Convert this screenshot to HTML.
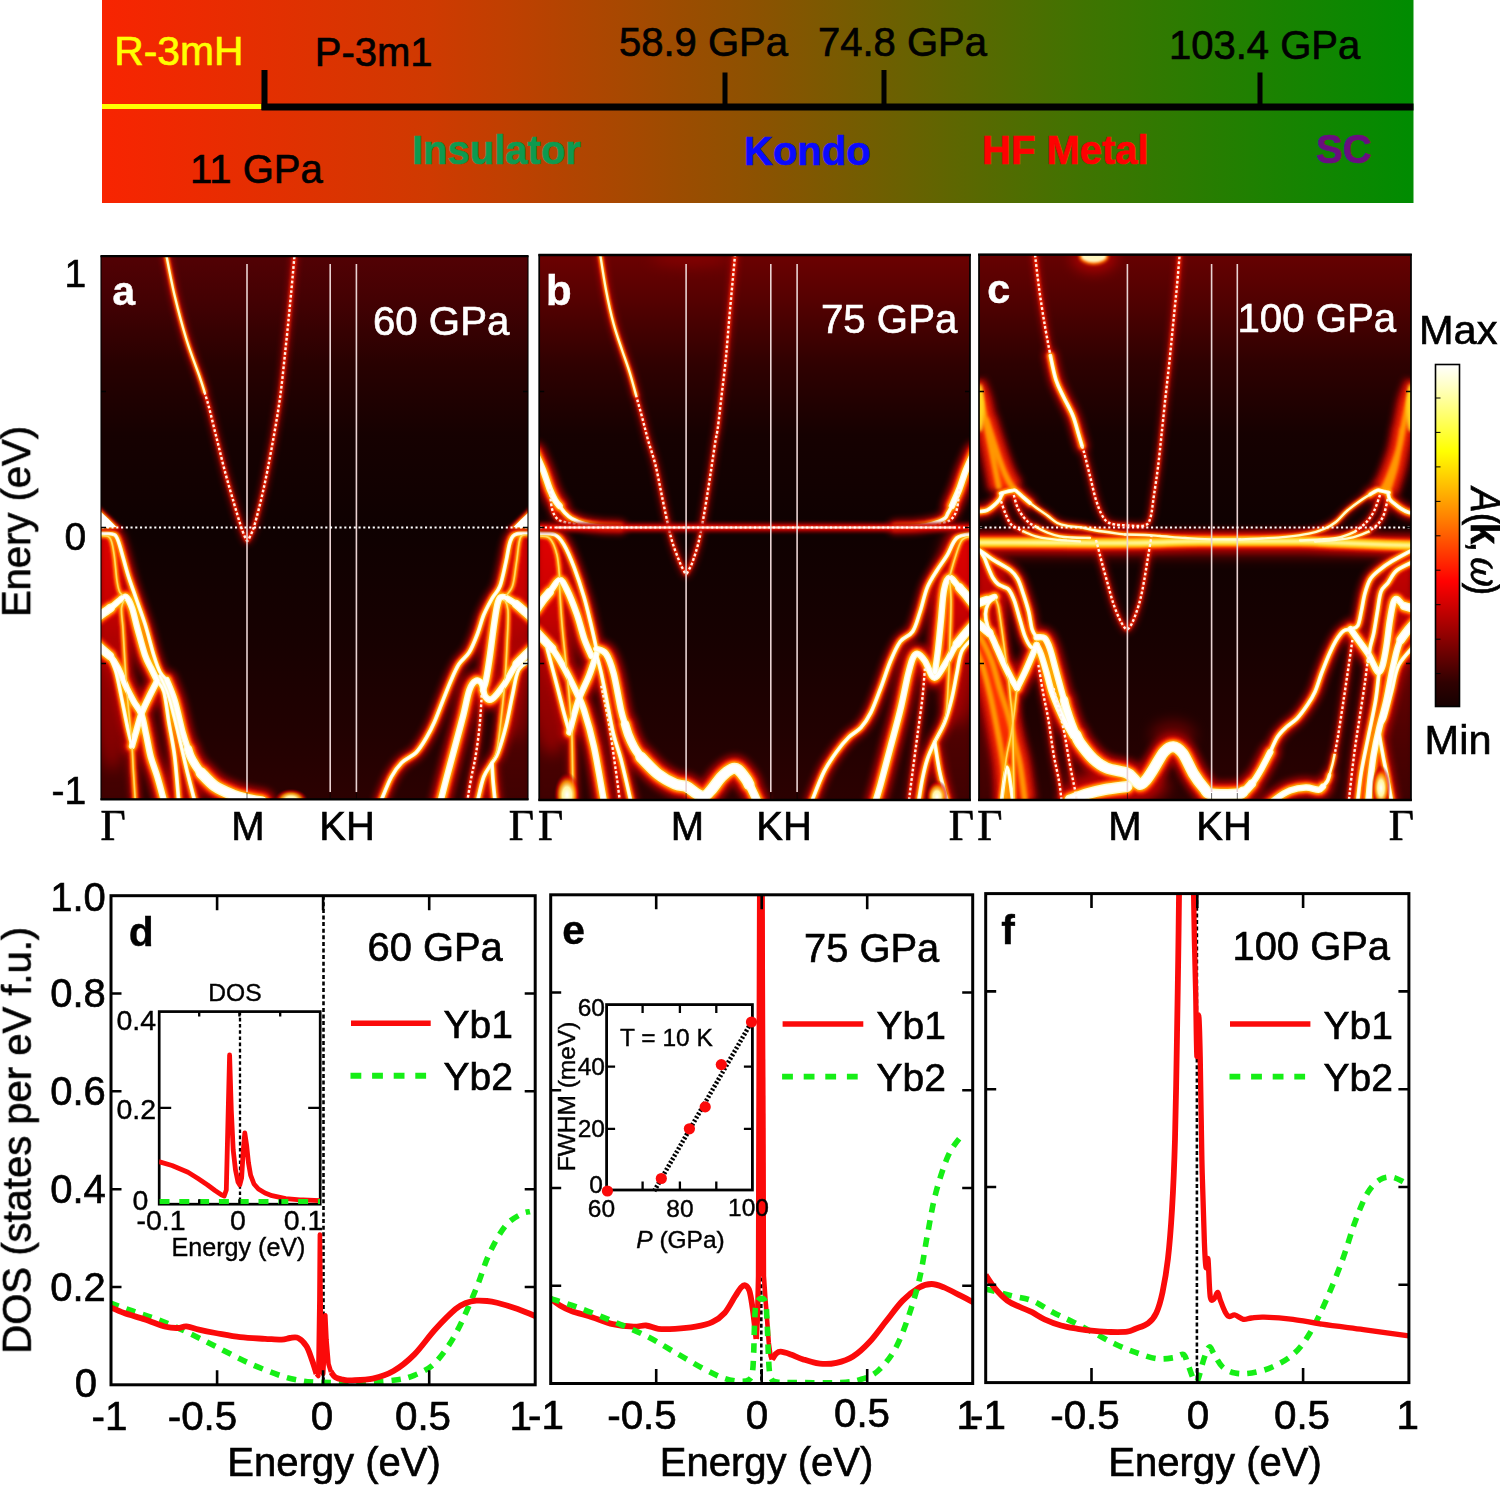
<!DOCTYPE html>
<html lang="en"><head><meta charset="utf-8"><title>Figure</title>
<style>
html,body{margin:0;padding:0;background:#fff;}
body{width:1500px;height:1485px;overflow:hidden;}
svg{display:block;}
</style></head><body>
<svg width="1500" height="1485" viewBox="0 0 1500 1485">
<rect width="1500" height="1485" fill="#fff"/>
<g opacity="0.999">
<defs><linearGradient id="gbar" x1="0" x2="1" y1="0" y2="0"><stop offset="0" stop-color="#f82400"/><stop offset="0.25" stop-color="#cf3a00"/><stop offset="0.5" stop-color="#8c5200"/><stop offset="0.75" stop-color="#3f7400"/><stop offset="1" stop-color="#008c00"/></linearGradient></defs>
<rect x="102" y="0" width="1311.5" height="203" fill="url(#gbar)"/>
<rect x="102" y="104" width="161" height="5" fill="#ffff00"/>
<rect x="261.5" y="103.5" width="1152" height="7" fill="#000"/>
<rect x="261.5" y="70" width="6" height="40" fill="#000"/>
<rect x="722.5" y="72.5" width="5" height="36" fill="#000"/>
<rect x="881.5" y="70" width="5" height="38" fill="#000"/>
<rect x="1257.5" y="72.5" width="5" height="36" fill="#000"/>
<text x="114.3" y="65.0" font-family="'Liberation Sans', Arial, Helvetica, sans-serif" font-size="40.8" text-anchor="start" font-weight="normal" font-style="normal" fill="#ffff00" stroke="#ffff00" stroke-width="0.65">R-3mH</text>
<text x="314.8" y="65.5" font-family="'Liberation Sans', Arial, Helvetica, sans-serif" font-size="40.0" text-anchor="start" font-weight="normal" font-style="normal" fill="#000" stroke="#000" stroke-width="0.65">P-3m1</text>
<text x="619.0" y="56.0" font-family="'Liberation Sans', Arial, Helvetica, sans-serif" font-size="40.0" text-anchor="start" font-weight="normal" font-style="normal" fill="#000" stroke="#000" stroke-width="0.65">58.9 GPa</text>
<text x="818.0" y="56.0" font-family="'Liberation Sans', Arial, Helvetica, sans-serif" font-size="40.0" text-anchor="start" font-weight="normal" font-style="normal" fill="#000" stroke="#000" stroke-width="0.65">74.8 GPa</text>
<text x="1169.0" y="59.0" font-family="'Liberation Sans', Arial, Helvetica, sans-serif" font-size="40.0" text-anchor="start" font-weight="normal" font-style="normal" fill="#000" stroke="#000" stroke-width="0.65">103.4 GPa</text>
<text x="190.0" y="182.5" font-family="'Liberation Sans', Arial, Helvetica, sans-serif" font-size="40.0" text-anchor="start" font-weight="normal" font-style="normal" fill="#000" stroke="#000" stroke-width="0.65">11 GPa</text>
<text x="412.0" y="164.0" font-family="'Liberation Sans', Arial, Helvetica, sans-serif" font-size="40.0" text-anchor="start" font-weight="bold" font-style="normal" fill="#0d9a50" stroke="#0d9a50" stroke-width="0.65">Insulator</text>
<text x="744.0" y="165.0" font-family="'Liberation Sans', Arial, Helvetica, sans-serif" font-size="40.0" text-anchor="start" font-weight="bold" font-style="normal" fill="#0a0aff" stroke="#0a0aff" stroke-width="0.65">Kondo</text>
<text x="982.0" y="164.0" font-family="'Liberation Sans', Arial, Helvetica, sans-serif" font-size="40.0" text-anchor="start" font-weight="bold" font-style="normal" fill="#ff0000" stroke="#ff0000" stroke-width="0.65">HF Metal</text>
<text x="1316.0" y="162.5" font-family="'Liberation Sans', Arial, Helvetica, sans-serif" font-size="40.0" text-anchor="start" font-weight="bold" font-style="normal" fill="#6a0d80" stroke="#6a0d80" stroke-width="0.65">SC</text>
<defs>
<linearGradient id="pbga" x1="0" x2="0" y1="0" y2="1"><stop offset="0" stop-color="#520004"/><stop offset="0.08" stop-color="#440003"/><stop offset="0.2" stop-color="#280001"/><stop offset="0.33" stop-color="#160000"/><stop offset="0.5" stop-color="#0f0000"/><stop offset="0.7" stop-color="#170000"/><stop offset="0.88" stop-color="#220000"/><stop offset="1" stop-color="#2c0000"/></linearGradient>
<linearGradient id="pbgb" x1="0" x2="0" y1="0" y2="1"><stop offset="0" stop-color="#6c0000"/><stop offset="0.08" stop-color="#560000"/><stop offset="0.2" stop-color="#300000"/><stop offset="0.33" stop-color="#160000"/><stop offset="0.5" stop-color="#0f0000"/><stop offset="0.7" stop-color="#170000"/><stop offset="0.88" stop-color="#220000"/><stop offset="1" stop-color="#2c0000"/></linearGradient>
<linearGradient id="pbgc" x1="0" x2="0" y1="0" y2="1"><stop offset="0" stop-color="#660000"/><stop offset="0.08" stop-color="#520000"/><stop offset="0.2" stop-color="#2e0000"/><stop offset="0.33" stop-color="#160000"/><stop offset="0.5" stop-color="#0f0000"/><stop offset="0.7" stop-color="#170000"/><stop offset="0.88" stop-color="#220000"/><stop offset="1" stop-color="#2c0000"/></linearGradient>
<filter id="bl4" filterUnits="userSpaceOnUse" x="80" y="230" width="1350" height="590"><feGaussianBlur stdDeviation="3.2"/></filter>
<filter id="bl2" filterUnits="userSpaceOnUse" x="80" y="230" width="1350" height="590"><feGaussianBlur stdDeviation="1.7"/></filter>
<filter id="bl1" filterUnits="userSpaceOnUse" x="80" y="230" width="1350" height="590"><feGaussianBlur stdDeviation="0.8"/></filter>
<filter id="bl05" filterUnits="userSpaceOnUse" x="80" y="230" width="1350" height="590"><feGaussianBlur stdDeviation="0.45"/></filter>
<filter id="bl8" filterUnits="userSpaceOnUse" x="80" y="230" width="1350" height="590"><feGaussianBlur stdDeviation="7"/></filter>
<radialGradient id="blob"><stop offset="0" stop-color="#fff"/><stop offset="0.35" stop-color="#fff6a0"/>
<stop offset="0.6" stop-color="#ff9000" stop-opacity="0.9"/><stop offset="0.8" stop-color="#e00000" stop-opacity="0.6"/>
<stop offset="1" stop-color="#600000" stop-opacity="0"/></radialGradient>
</defs>
<defs><clipPath id="cpa"><rect x="101.0" y="256.2" width="427.0" height="543.2"/></clipPath>
<g id="bTa" fill="none" stroke-linejoin="round"><path d="M166.7 680.0C168.0 683.5 172.0 691.9 174.7 700.7C177.4 709.5 180.5 724.7 182.7 732.7C184.9 740.8 187.1 746.3 188.0 749.0"/><path d="M98.0 616.0C100.1 614.6 107.1 610.5 110.8 607.8C114.5 605.1 117.5 601.8 120.0 600.0C122.5 598.2 124.0 595.7 126.0 597.0C128.0 598.3 130.1 602.4 132.0 607.8C133.9 613.2 135.5 621.4 137.7 629.3C139.9 637.2 142.8 648.5 145.0 655.0C147.2 661.5 148.9 663.7 151.0 668.0C153.1 672.3 156.2 678.6 157.3 680.7"/><path d="M98.0 646.0C100.0 647.7 106.7 652.3 110.0 656.0C113.3 659.7 115.2 662.7 118.0 668.0C120.8 673.3 124.0 682.3 126.7 688.0C129.4 693.7 131.6 697.7 134.0 702.0C136.4 706.3 139.3 708.7 141.3 714.0C143.3 719.3 144.4 726.9 146.0 734.0C147.6 741.1 148.8 749.6 150.7 756.7C152.6 763.8 155.1 769.3 157.3 776.7C159.5 784.1 162.9 797.0 164.0 801.0"/><path d="M157.3 680.7C156.1 683.1 152.7 689.5 150.0 695.0C147.3 700.5 143.6 707.8 141.3 714.0C139.0 720.2 137.6 726.7 136.0 732.0C134.4 737.3 132.7 743.7 132.0 746.0"/><path d="M531.0 616.0C528.5 614.0 520.7 607.2 516.0 604.0C511.3 600.8 506.0 597.3 503.0 597.0C500.0 596.7 499.5 597.3 498.0 602.0C496.5 606.7 495.3 616.2 494.0 625.0C492.7 633.8 491.3 645.8 490.0 655.0C488.7 664.2 487.2 674.2 486.0 680.0C484.8 685.8 483.5 688.3 483.0 690.0"/><path d="M531.0 650.0C528.6 652.3 521.1 658.2 516.6 664.0C512.1 669.8 508.1 679.0 504.0 684.8C499.9 690.6 495.2 697.1 492.0 699.0C488.8 700.9 486.7 698.6 485.0 696.0C483.3 693.4 483.3 686.0 481.7 683.5C480.1 681.0 477.6 679.9 475.5 681.0C473.4 682.1 471.4 684.2 469.4 690.0C467.3 695.8 465.6 706.2 463.2 715.6C460.8 725.0 457.7 736.2 455.0 746.4C452.3 756.6 449.2 767.9 446.8 777.0C444.4 786.1 441.6 797.0 440.6 801.0"/></g>
<g id="bMa" fill="none" stroke-linejoin="round"><path d="M98.0 533.2C100.3 533.3 108.8 533.2 112.0 534.0C115.2 534.8 115.4 535.0 117.0 538.0C118.6 541.0 119.7 545.5 121.5 551.7C123.3 557.9 125.7 567.5 128.0 575.0C130.3 582.5 132.8 588.8 135.6 597.0C138.4 605.2 141.9 614.2 145.0 624.0C148.1 633.8 151.5 648.0 154.0 656.0C156.5 664.0 157.9 668.0 160.0 672.0C162.1 676.0 165.6 678.7 166.7 680.0"/><path d="M110.0 657.0C111.0 659.5 114.2 665.7 116.0 672.0C117.8 678.3 119.2 686.2 121.0 695.0C122.8 703.8 125.2 716.5 127.0 725.0C128.8 733.5 131.2 742.5 132.0 746.0"/><path d="M157.3 680.7C158.4 682.6 162.1 685.0 164.0 692.0C165.9 699.0 167.2 712.2 169.0 723.0C170.8 733.8 173.1 743.7 174.7 756.7C176.3 769.7 178.0 793.6 178.7 801.0"/><path d="M160.0 676.0C161.3 679.0 165.7 687.3 168.0 694.0C170.3 700.7 171.8 707.5 174.0 716.0C176.2 724.5 178.7 735.2 181.0 745.0C183.3 754.8 185.7 765.7 188.0 775.0C190.3 784.3 193.6 796.7 194.7 801.0"/><path d="M381.0 801.0C382.7 797.0 387.9 783.4 391.3 777.0C394.7 770.6 397.5 766.9 401.6 762.8C405.7 758.7 411.9 756.7 416.0 752.6C420.1 748.5 423.1 743.1 426.2 738.0C429.3 732.9 431.8 728.0 434.5 721.8C437.2 715.6 440.0 707.9 442.7 701.0C445.4 694.1 448.2 686.9 450.9 680.7C453.6 674.5 455.9 668.8 459.0 664.0C462.1 659.2 466.3 657.1 469.4 652.0C472.5 646.9 475.2 639.7 477.6 633.5C480.0 627.3 481.3 620.8 483.7 615.0C486.1 609.2 489.3 603.4 492.0 598.6C494.7 593.8 497.7 592.2 500.0 586.0C502.3 579.8 504.3 569.1 506.0 561.6C507.7 554.1 508.6 545.6 510.4 541.0C512.2 536.4 513.2 535.3 516.6 534.0C520.0 532.7 528.6 533.2 531.0 533.0"/><path d="M531.0 660.0C528.9 661.7 521.7 664.2 518.6 670.0C515.5 675.8 514.6 685.7 512.5 695.0C510.4 704.3 508.4 716.4 506.0 726.0C503.6 735.6 500.3 746.4 498.0 752.6C495.7 758.8 494.4 758.9 492.0 763.0C489.6 767.1 486.1 770.7 483.7 777.0C481.3 783.3 478.6 797.0 477.6 801.0"/><path d="M492.0 763.0C492.2 765.8 492.5 773.7 493.0 780.0C493.5 786.3 494.7 797.5 495.0 801.0"/></g>
<g id="bSa" fill="none" stroke-linejoin="round"><path d="M204.5 392.0C205.2 394.5 206.8 398.9 208.9 407.0C211.0 415.1 214.4 429.3 217.2 440.5C220.0 451.7 222.8 463.6 225.6 474.0C228.4 484.4 231.5 494.7 233.9 503.0C236.3 511.3 238.4 518.5 240.2 524.0C242.0 529.5 243.3 533.2 244.5 536.0C245.7 538.8 246.4 540.8 247.3 540.8C248.2 540.8 248.9 538.8 250.2 536.0C251.4 533.2 252.6 531.6 254.8 524.0C257.0 516.4 260.4 503.1 263.2 490.6C266.0 478.1 268.7 464.2 271.5 448.9C274.3 433.6 277.5 416.1 279.9 398.7C282.3 381.3 284.1 361.8 286.0 344.4C287.9 327.0 289.5 310.0 291.0 294.3C292.5 278.6 294.3 257.4 295.0 250.0"/><path d="M481.7 695.0C481.4 700.2 480.6 715.7 479.6 726.0C478.6 736.3 476.9 748.2 475.5 756.7C474.1 765.2 472.8 769.6 471.4 777.0C470.0 784.4 468.0 797.0 467.3 801.0"/></g>
<g id="bDa" fill="none" stroke-linejoin="round"><path d="M98.0 535.5C100.0 535.9 107.0 534.6 109.7 537.7C112.4 540.8 112.8 546.8 114.0 554.0C115.2 561.2 116.0 574.5 117.0 581.0C118.0 587.5 118.5 590.0 120.0 592.7C121.5 595.4 125.0 596.3 126.0 597.0"/><path d="M126.0 597.0C125.2 598.8 122.0 602.5 121.5 607.8C121.0 613.1 122.5 620.3 123.0 629.0C123.5 637.7 124.2 649.8 124.8 660.0C125.4 670.2 126.0 680.5 126.7 690.0C127.5 699.5 128.4 707.4 129.3 716.7C130.2 726.0 131.3 737.1 132.0 746.0C132.7 754.9 132.8 760.8 133.3 770.0C133.9 779.2 135.0 795.8 135.3 801.0"/><path d="M531.0 535.0C529.3 535.3 523.1 532.6 520.7 537.0C518.3 541.4 518.0 553.4 516.6 561.6C515.2 569.8 514.6 579.9 512.5 586.0C510.4 592.1 505.4 596.0 504.0 598.0"/><path d="M503.0 597.0C503.8 599.2 507.3 602.0 508.0 610.0C508.7 618.0 507.5 633.3 507.0 645.0C506.5 656.7 506.0 667.5 505.0 680.0C504.0 692.5 502.3 708.3 501.0 720.0C499.7 731.7 498.5 742.8 497.0 750.0C495.5 757.2 492.8 760.8 492.0 763.0"/></g>
<g id="bUa" fill="none" stroke-linejoin="round"><path d="M165.3 250.0C166.8 257.4 170.8 279.3 174.3 294.3C177.9 309.3 182.3 326.1 186.6 340.0C190.9 353.9 197.0 369.1 200.0 377.8C203.0 386.5 203.8 389.6 204.5 392.0"/></g>
<g id="bGa" fill="none" stroke-linejoin="round"></g>
<g id="bXa" fill="none" stroke-linejoin="round"><path d="M201.0 772.7C203.3 774.9 209.4 782.3 214.7 786.0C220.0 789.7 227.7 792.8 233.0 795.0C238.3 797.2 241.9 797.8 246.7 799.0C251.5 800.2 259.4 801.5 262.0 802.0"/></g>
<g id="bFa" fill="none" stroke-linejoin="round"></g>
<g id="bYa" fill="none" stroke-linejoin="round"><path d="M188.0 749.0C188.4 750.3 189.4 753.9 190.7 756.7C192.0 759.5 194.3 763.3 196.0 766.0C197.7 768.7 200.2 771.6 201.0 772.7"/><path d="M98.0 617.0C99.0 616.2 101.9 614.0 104.0 612.5C106.1 611.0 109.7 608.6 110.8 607.8"/><path d="M98.0 645.5C99.0 646.4 102.0 649.2 104.0 651.0C106.0 652.8 109.0 655.2 110.0 656.0"/><path d="M531.0 617.0C529.7 615.8 525.5 612.2 523.0 610.0C520.5 607.8 517.2 605.0 516.0 604.0"/><path d="M531.0 650.0C529.7 651.2 525.4 655.2 523.0 657.5C520.6 659.8 517.7 662.9 516.6 664.0"/></g>
</defs>
<g clip-path="url(#cpa)">
<rect x="101.0" y="256.2" width="427.0" height="543.2" fill="url(#pbga)"/>
<ellipse cx="112" cy="650" rx="22" ry="120" fill="#c00000" opacity="0.55" filter="url(#bl8)"/><ellipse cx="516" cy="640" rx="18" ry="100" fill="#c00000" opacity="0.45" filter="url(#bl8)"/>
<defs><linearGradient id="efa" gradientUnits="userSpaceOnUse" x1="0" x2="0" y1="530" y2="800"><stop offset="0" stop-color="#f00000" stop-opacity="0.9"/><stop offset="0.3" stop-color="#e00000" stop-opacity="0.75"/><stop offset="0.6" stop-color="#b00000" stop-opacity="0.45"/><stop offset="1" stop-color="#800000" stop-opacity="0.25"/></linearGradient></defs><path d="M99.0 534.0L113.0 535.0L119.0 545.0L126.0 572.0L128.0 597.0L128.0 624.0L128.0 656.0L128.0 680.0L128.0 700.0L128.0 735.0L128.0 770.0L128.0 802.0L99.0 802.0Z" fill="url(#efa)" filter="url(#bl4)"/><path d="M530.0 534.0L517.0 535.0L511.0 545.0L507.0 562.0L501.0 586.0L501.0 600.0L501.0 618.0L501.0 640.0L501.0 680.0L501.0 700.0L501.0 730.0L501.0 760.0L501.0 802.0L530.0 802.0Z" fill="url(#efa)" filter="url(#bl4)"/>
<use href="#bGa" stroke="#c00000" stroke-width="24" filter="url(#bl4)" opacity="0.9" style="mix-blend-mode:lighten"/>
<use href="#bGa" stroke="#ff3000" stroke-width="13" filter="url(#bl4)" style="mix-blend-mode:lighten"/>
<use href="#bGa" stroke="#ff9800" stroke-width="5.5" filter="url(#bl2)" style="mix-blend-mode:lighten"/>
<use href="#bFa" stroke="#b40000" stroke-width="21" filter="url(#bl4)" opacity="0.95" style="mix-blend-mode:lighten"/>
<use href="#bFa" stroke="#ff2800" stroke-width="14" filter="url(#bl2)" style="mix-blend-mode:lighten"/>
<use href="#bFa" stroke="#ffa800" stroke-width="10" filter="url(#bl1)" style="mix-blend-mode:lighten"/>
<use href="#bFa" stroke="#ffe030" stroke-width="6.6" filter="url(#bl1)" style="mix-blend-mode:lighten"/>
<use href="#bFa" stroke="#fff8a8" stroke-width="2.6" filter="url(#bl1)" style="mix-blend-mode:lighten"/>
<g filter="url(#bl4)" stroke="#b40000" opacity="0.95" stroke-linecap="round" style="mix-blend-mode:lighten">
<use href="#bXa" stroke-width="27"/>
<use href="#bYa" stroke-width="24"/>
<use href="#bTa" stroke-width="21"/>
<use href="#bMa" stroke-width="14.5"/>
<use href="#bDa" stroke-width="11"/>
<use href="#bUa" stroke-width="8"/>
<use href="#bSa" stroke-width="7" opacity="0.8"/>
</g>
<g filter="url(#bl2)" stroke="#ff2800" stroke-linecap="round" style="mix-blend-mode:lighten">
<use href="#bXa" stroke-width="19"/>
<use href="#bYa" stroke-width="16"/>
<use href="#bTa" stroke-width="13.5"/>
<use href="#bMa" stroke-width="9"/>
<use href="#bDa" stroke-width="6.5"/>
<use href="#bUa" stroke-width="5.5"/>
<use href="#bSa" stroke-width="3.7"/>
</g>
<g filter="url(#bl1)" stroke="#ffb400" stroke-linecap="round" style="mix-blend-mode:lighten">
<use href="#bXa" stroke-width="14"/>
<use href="#bYa" stroke-width="11.6"/>
<use href="#bTa" stroke-width="9.4"/>
<use href="#bMa" stroke-width="6"/>
<use href="#bDa" stroke-width="3.8"/>
<use href="#bUa" stroke-width="3.6"/>
</g>
<g filter="url(#bl05)" stroke="#fffbd0" stroke-linecap="round" style="mix-blend-mode:lighten">
<use href="#bXa" stroke-width="11"/>
<use href="#bYa" stroke-width="8.6"/>
<use href="#bTa" stroke-width="6.4"/>
<use href="#bMa" stroke-width="3.7"/>
<use href="#bUa" stroke-width="2.3"/>
<use href="#bDa" stroke-width="1.6" stroke="#ffd860"/>
</g>
<g stroke="#ffffff" stroke-linecap="round">
<use href="#bXa" stroke-width="8.2"/>
<use href="#bYa" stroke-width="5.9"/>
<use href="#bTa" stroke-width="3.9"/>
<use href="#bMa" stroke-width="1.7"/>
</g>
<use href="#bSa" stroke="#fff0e6" stroke-width="2.4" stroke-dasharray="2.7 2.1" stroke-linecap="butt"/>
<ellipse cx="291.0" cy="800.0" rx="17.1" ry="11.4" fill="url(#blob)"/>
<path d="M100.0 511.0L108.0 518.5L116.5 527.0L100.0 528.0Z" fill="#ff3000" filter="url(#bl2)" stroke="#d00000" stroke-width="6"/>
<path d="M100.0 511.0L108.0 518.5L116.5 527.0L100.0 528.0Z" fill="#ffc000" filter="url(#bl1)" stroke="#ffa000" stroke-width="2"/>
<path d="M100.0 511.0L108.0 518.5L116.5 527.0L100.0 528.0Z" fill="#ffffff" filter="url(#bl05)"/>
<path d="M529.0 512.0L521.0 519.5L513.5 527.0L529.0 528.0Z" fill="#ff3000" filter="url(#bl2)" stroke="#d00000" stroke-width="6"/>
<path d="M529.0 512.0L521.0 519.5L513.5 527.0L529.0 528.0Z" fill="#ffc000" filter="url(#bl1)" stroke="#ffa000" stroke-width="2"/>
<path d="M529.0 512.0L521.0 519.5L513.5 527.0L529.0 528.0Z" fill="#ffffff" filter="url(#bl05)"/>


<rect x="246.2" y="264" width="1.6" height="528" fill="#e9d2d2"/>
<rect x="329.4" y="264" width="1.6" height="528" fill="#e9d2d2"/>
<rect x="355.6" y="264" width="1.6" height="528" fill="#e9d2d2"/>
<path d="M102.0 527.5H528.0" stroke="#fff" stroke-width="2.2" stroke-dasharray="2.1 2.65" fill="none"/>
</g>
<rect x="101.0" y="256.2" width="427.0" height="543.2" fill="none" stroke="#000" stroke-width="1.1"/>
<path d="M100.5 256.2H528.5M100.5 799.4H528.5" stroke="#000" stroke-width="2.3" fill="none"/>
<path d="M101.0 391.5h5M528.0 391.5h-5" stroke="#000" stroke-width="1.4"/>
<path d="M101.0 527.5h5M528.0 527.5h-5" stroke="#000" stroke-width="1.4"/>
<path d="M101.0 663.5h5M528.0 663.5h-5" stroke="#000" stroke-width="1.4"/>
<path d="M247.0 800v-7" stroke="#000" stroke-width="1" opacity="0.6"/>
<path d="M330.2 800v-7" stroke="#000" stroke-width="1" opacity="0.6"/>
<path d="M356.4 800v-7" stroke="#000" stroke-width="1" opacity="0.6"/>
<defs><clipPath id="cpb"><rect x="539.2" y="255.0" width="430.8" height="545.0"/></clipPath>
<g id="bTb" fill="none" stroke-linejoin="round"><path d="M535.0 452.0C536.3 455.0 540.5 463.8 543.0 470.0C545.5 476.2 547.7 484.0 549.7 489.0C551.7 494.0 553.4 497.2 555.0 500.0C556.6 502.8 558.8 505.0 559.6 506.0"/><path d="M974.0 452.0C972.7 455.0 968.5 463.8 966.0 470.0C963.5 476.2 961.2 484.0 959.3 489.0C957.4 494.0 955.7 497.2 954.5 500.0C953.3 502.8 952.3 505.0 951.9 506.0"/><path d="M596.4 648.8C598.0 649.6 603.1 649.7 606.0 653.8C608.9 657.9 611.1 664.0 613.6 673.4C616.1 682.8 619.1 701.6 621.0 710.0C622.9 718.4 624.3 721.7 625.0 724.0"/><path d="M536.0 609.0C538.3 606.2 545.8 596.8 549.7 592.0C553.6 587.2 556.7 580.3 559.6 580.0C562.5 579.7 564.1 584.3 567.0 590.0C569.9 595.7 573.9 605.9 576.8 614.0C579.7 622.1 581.8 631.7 584.2 638.7C586.7 645.7 590.3 653.1 591.5 656.0"/><path d="M536.0 632.0C538.7 634.8 547.5 642.7 552.2 648.8C557.0 654.9 560.4 661.1 564.5 668.5C568.6 675.9 573.5 686.1 576.8 693.0C580.0 699.9 581.1 701.0 584.0 710.0C586.9 719.0 590.7 731.8 594.0 747.0C597.3 762.2 602.2 792.0 603.8 801.0"/><path d="M596.4 654.0C595.2 657.6 591.9 668.6 589.0 675.9C586.1 683.2 582.1 690.2 579.2 698.0C576.4 705.8 573.5 716.9 571.9 722.6C570.3 728.3 569.8 730.8 569.4 732.4"/><path d="M973.0 603.0C970.7 600.4 963.2 591.6 959.3 587.4C955.4 583.2 951.9 577.2 949.4 577.6C946.9 578.0 945.4 582.9 944.0 590.0C942.6 597.1 942.0 610.0 941.0 620.0C940.0 630.0 939.0 641.3 938.0 650.0C937.0 658.7 935.5 668.3 935.0 672.0"/><path d="M973.0 625.0C970.3 628.2 961.1 638.0 956.8 644.0C952.5 650.0 950.3 655.7 947.0 661.0C943.7 666.3 939.7 673.4 937.2 675.9C934.7 678.4 934.2 678.4 932.2 675.9C930.2 673.4 927.4 664.7 924.9 661.0C922.4 657.3 919.5 654.2 917.5 653.8C915.5 653.4 914.2 655.0 912.6 658.7C911.0 662.4 909.8 667.4 907.7 675.9C905.7 684.4 903.2 698.1 900.3 710.0C897.4 721.9 893.8 734.7 890.5 747.0C887.2 759.3 883.2 775.0 880.7 784.0C878.2 793.0 876.5 798.2 875.7 801.0"/></g>
<g id="bMb" fill="none" stroke-linejoin="round"><path d="M559.6 506.0C560.5 507.2 563.0 510.9 565.0 513.0C567.0 515.1 568.7 516.9 571.9 518.6C575.1 520.4 579.5 522.3 584.0 523.5C588.5 524.7 593.0 525.4 599.0 526.0C605.0 526.6 616.5 526.8 620.0 527.0"/><path d="M951.9 506.0C951.2 507.2 949.2 510.9 948.0 513.0C946.8 515.1 947.1 516.9 944.5 518.6C941.9 520.4 936.7 522.3 932.2 523.5C927.7 524.7 923.7 525.4 917.5 526.0C911.3 526.6 898.8 526.8 895.0 527.0"/><path d="M536.0 533.4C539.1 533.6 550.0 532.5 554.7 534.6C559.5 536.7 561.2 540.2 564.5 545.7C567.8 551.2 571.0 559.2 574.3 567.8C577.5 576.3 581.1 587.2 584.0 597.0C586.9 606.8 589.4 618.1 591.5 626.7C593.6 635.3 595.6 645.1 596.4 648.8"/><path d="M547.3 648.8C548.9 654.9 554.1 674.7 557.0 685.7C559.9 696.7 562.4 707.2 564.5 715.0C566.6 722.8 568.6 729.5 569.4 732.4"/><path d="M596.4 654.0C597.2 657.2 599.6 666.1 601.3 673.4C602.9 680.7 604.2 687.8 606.3 698.0C608.3 708.2 611.1 724.6 613.6 734.8C616.1 745.0 618.1 748.4 621.0 759.4C623.9 770.4 629.2 794.1 630.8 801.0"/><path d="M811.9 801.0C813.9 796.1 819.9 779.9 824.0 771.7C828.1 763.5 832.3 757.7 836.4 752.0C840.5 746.3 844.6 741.4 848.7 737.3C852.8 733.2 857.3 731.6 861.0 727.5C864.7 723.4 867.5 719.3 870.8 712.7C874.1 706.1 877.4 696.6 880.7 688.0C884.0 679.4 887.2 668.8 890.5 661.0C893.8 653.2 896.6 646.4 900.3 641.5C904.0 636.6 909.3 636.5 912.6 631.6C915.9 626.7 917.5 619.4 920.0 612.0C922.5 604.6 924.4 594.4 927.3 587.4C930.2 580.4 933.9 575.3 937.2 570.0C940.5 564.7 943.7 560.8 947.0 555.5C950.3 550.2 952.5 541.7 956.8 538.0C961.1 534.3 970.3 534.2 973.0 533.4"/><path d="M973.0 638.0C971.1 640.2 964.4 645.4 961.7 651.3C959.0 657.2 958.4 665.6 956.8 673.4C955.2 681.2 953.9 689.8 951.9 698.0C949.9 706.2 947.4 715.3 944.5 722.6C941.6 729.9 937.6 735.9 934.7 742.0C931.8 748.1 929.3 753.2 927.3 759.4C925.2 765.6 923.8 772.1 922.4 779.0C921.0 785.9 919.3 797.3 918.7 801.0"/><path d="M934.7 742.0C935.5 747.0 937.6 761.9 939.6 771.7C941.6 781.5 945.8 796.1 947.0 801.0"/></g>
<g id="bSb" fill="none" stroke-linejoin="round"><path d="M636.0 395.0C637.1 399.1 640.7 412.0 642.7 419.5C644.7 427.0 645.9 432.5 648.0 440.0C650.1 447.5 653.1 455.6 655.4 464.6C657.6 473.6 659.5 484.2 661.5 494.0C663.5 503.8 665.9 515.3 667.7 523.5C669.6 531.7 670.6 536.4 672.6 543.0C674.6 549.6 678.2 558.4 680.0 562.9C681.8 567.4 682.5 568.1 683.5 570.0C684.5 571.9 685.2 574.0 686.1 574.0C687.0 574.0 687.7 571.9 688.7 570.0C689.7 568.1 690.6 567.4 692.2 562.9C693.8 558.4 696.5 550.4 698.4 543.0C700.2 535.6 701.7 527.6 703.3 518.6C704.9 509.6 706.8 498.0 708.2 489.0C709.6 480.0 710.7 472.8 711.9 464.6C713.1 456.4 714.6 446.1 715.6 440.0C716.6 433.9 716.7 435.8 717.8 427.8C718.9 419.8 720.6 403.8 722.0 392.0C723.4 380.2 724.7 370.6 726.0 356.9C727.3 343.2 728.4 327.8 730.0 310.0C731.6 292.2 734.6 260.0 735.5 250.0"/><path d="M549.7 489.0C550.1 492.3 550.8 503.9 552.0 508.8C553.2 513.7 555.0 516.4 557.0 518.6C559.0 520.8 561.5 521.2 564.0 522.0C566.5 522.8 567.6 522.8 571.9 523.5C576.2 524.2 587.0 526.0 590.0 526.5"/><path d="M959.3 489.0C958.9 492.3 958.2 503.9 957.0 508.8C955.8 513.7 953.8 516.4 952.0 518.6C950.2 520.8 948.3 521.1 946.0 522.0C943.7 522.9 942.3 523.2 938.0 524.0C933.7 524.8 923.0 526.1 920.0 526.5"/><path d="M601.3 685.7C602.5 691.9 606.2 708.3 608.7 722.6C611.2 736.9 614.1 758.6 616.0 771.7C617.9 784.8 619.2 796.1 619.8 801.0"/><path d="M924.9 668.5C924.5 673.4 923.6 687.0 922.4 698.0C921.2 709.0 919.1 722.5 917.5 734.8C915.9 747.1 914.0 760.7 912.6 771.7C911.2 782.7 909.5 796.1 908.9 801.0"/></g>
<g id="bDb" fill="none" stroke-linejoin="round"><path d="M536.0 536.0C538.3 536.4 546.2 535.1 549.7 538.3C553.2 541.5 555.4 548.5 557.0 555.0C558.6 561.5 559.2 573.8 559.6 577.6"/><path d="M559.6 580.0C559.6 581.2 559.2 580.1 559.6 587.4C560.0 594.7 561.0 611.7 562.0 624.0C563.0 636.3 564.5 648.7 565.7 661.0C566.9 673.3 568.4 685.7 569.4 698.0C570.4 710.3 571.3 717.6 571.9 734.8C572.5 752.0 572.8 790.0 573.0 801.0"/><path d="M973.0 536.0C971.2 536.7 965.0 536.3 962.0 540.0C959.0 543.7 957.1 551.7 955.0 558.0C952.9 564.3 950.3 574.3 949.4 577.6"/><path d="M949.4 577.6C949.7 581.3 950.9 589.6 951.0 600.0C951.1 610.4 950.5 625.0 950.0 640.0C949.5 655.0 948.8 676.7 948.0 690.0C947.2 703.3 947.2 711.3 945.0 720.0C942.8 728.7 936.4 738.3 934.7 742.0"/></g>
<g id="bUb" fill="none" stroke-linejoin="round"><path d="M599.5 250.0C600.6 256.7 603.7 277.8 606.0 290.0C608.3 302.2 610.8 313.5 613.5 323.5C616.2 333.5 619.2 341.7 622.0 350.0C624.8 358.3 627.7 366.0 630.0 373.5C632.3 381.0 635.0 391.4 636.0 395.0"/></g>
<g id="bGb" fill="none" stroke-linejoin="round"></g>
<g id="bXb" fill="none" stroke-linejoin="round"><path d="M640.7 757.0C643.6 759.8 652.2 769.5 657.9 774.0C663.6 778.5 670.3 781.9 675.0 784.0C679.7 786.1 682.4 784.8 686.1 786.4C689.8 788.0 693.9 792.2 697.0 793.8C700.1 795.4 702.0 796.8 704.5 796.0C707.0 795.2 709.1 792.2 712.0 789.0C714.9 785.8 718.4 779.9 721.7 776.6C725.0 773.3 728.9 770.2 731.6 769.0C734.3 767.8 735.6 767.8 738.0 769.5C740.4 771.2 744.2 776.5 746.0 779.0C747.8 781.5 748.5 783.6 749.0 784.5"/></g>
<g id="bFb" fill="none" stroke-linejoin="round"></g>
<g id="bYb" fill="none" stroke-linejoin="round"><path d="M625.0 724.0C625.6 725.8 626.9 731.0 628.4 734.8C629.9 738.6 632.0 743.3 634.0 747.0C636.0 750.7 639.6 755.3 640.7 757.0"/><path d="M749.0 784.5C749.5 785.4 750.6 787.1 752.0 790.0C753.4 792.9 756.6 800.0 757.5 802.0"/><path d="M536.0 610.0C537.2 608.3 540.7 603.0 543.0 600.0C545.3 597.0 548.6 593.3 549.7 592.0"/><path d="M536.0 631.5C537.3 632.9 541.3 637.1 544.0 640.0C546.7 642.9 550.8 647.3 552.2 648.8"/><path d="M973.0 604.0C971.8 602.5 968.3 597.8 966.0 595.0C963.7 592.2 960.4 588.7 959.3 587.4"/><path d="M973.0 625.0C971.7 626.5 967.7 630.8 965.0 634.0C962.3 637.2 958.2 642.3 956.8 644.0"/></g>
</defs>
<g clip-path="url(#cpb)">
<rect x="539.2" y="255.0" width="430.8" height="545.0" fill="url(#pbgb)"/>
<ellipse cx="552" cy="640" rx="26" ry="115" fill="#c80000" opacity="0.6" filter="url(#bl8)"/><ellipse cx="957" cy="625" rx="24" ry="100" fill="#c80000" opacity="0.6" filter="url(#bl8)"/><ellipse cx="690" cy="258" rx="40" ry="8" fill="#900000" opacity="0.7" filter="url(#bl8)"/>
<defs><linearGradient id="efb" gradientUnits="userSpaceOnUse" x1="0" x2="0" y1="530" y2="800"><stop offset="0" stop-color="#f00000" stop-opacity="0.9"/><stop offset="0.3" stop-color="#e00000" stop-opacity="0.75"/><stop offset="0.6" stop-color="#b00000" stop-opacity="0.45"/><stop offset="1" stop-color="#800000" stop-opacity="0.25"/></linearGradient></defs><path d="M537.0 534.0L554.0 536.0L563.0 548.0L566.2 568.0L566.2 597.0L566.2 627.0L566.2 652.0L566.2 660.0L566.2 680.0L566.2 715.0L566.2 760.0L566.2 802.0L537.0 802.0Z" fill="url(#efb)" filter="url(#bl4)"/><path d="M972.0 534.0L957.0 538.0L947.0 556.0L943.0 572.0L943.0 590.0L943.0 614.0L943.0 634.0L943.0 644.0L943.0 665.0L943.0 700.0L943.0 745.0L943.0 802.0L972.0 802.0Z" fill="url(#efb)" filter="url(#bl4)"/>
<use href="#bGb" stroke="#c00000" stroke-width="24" filter="url(#bl4)" opacity="0.9" style="mix-blend-mode:lighten"/>
<use href="#bGb" stroke="#ff3000" stroke-width="13" filter="url(#bl4)" style="mix-blend-mode:lighten"/>
<use href="#bGb" stroke="#ff9800" stroke-width="5.5" filter="url(#bl2)" style="mix-blend-mode:lighten"/>
<use href="#bFb" stroke="#b40000" stroke-width="21" filter="url(#bl4)" opacity="0.95" style="mix-blend-mode:lighten"/>
<use href="#bFb" stroke="#ff2800" stroke-width="14" filter="url(#bl2)" style="mix-blend-mode:lighten"/>
<use href="#bFb" stroke="#ffa800" stroke-width="10" filter="url(#bl1)" style="mix-blend-mode:lighten"/>
<use href="#bFb" stroke="#ffe030" stroke-width="6.6" filter="url(#bl1)" style="mix-blend-mode:lighten"/>
<use href="#bFb" stroke="#fff8a8" stroke-width="2.6" filter="url(#bl1)" style="mix-blend-mode:lighten"/>
<g filter="url(#bl4)" stroke="#b40000" opacity="0.95" stroke-linecap="round" style="mix-blend-mode:lighten">
<use href="#bXb" stroke-width="27"/>
<use href="#bYb" stroke-width="24"/>
<use href="#bTb" stroke-width="21"/>
<use href="#bMb" stroke-width="14.5"/>
<use href="#bDb" stroke-width="11"/>
<use href="#bUb" stroke-width="8"/>
<use href="#bSb" stroke-width="7" opacity="0.8"/>
</g>
<g filter="url(#bl2)" stroke="#ff2800" stroke-linecap="round" style="mix-blend-mode:lighten">
<use href="#bXb" stroke-width="19"/>
<use href="#bYb" stroke-width="16"/>
<use href="#bTb" stroke-width="13.5"/>
<use href="#bMb" stroke-width="9"/>
<use href="#bDb" stroke-width="6.5"/>
<use href="#bUb" stroke-width="5.5"/>
<use href="#bSb" stroke-width="3.7"/>
</g>
<g filter="url(#bl1)" stroke="#ffb400" stroke-linecap="round" style="mix-blend-mode:lighten">
<use href="#bXb" stroke-width="14"/>
<use href="#bYb" stroke-width="11.6"/>
<use href="#bTb" stroke-width="9.4"/>
<use href="#bMb" stroke-width="6"/>
<use href="#bDb" stroke-width="3.8"/>
<use href="#bUb" stroke-width="3.6"/>
</g>
<g filter="url(#bl05)" stroke="#fffbd0" stroke-linecap="round" style="mix-blend-mode:lighten">
<use href="#bXb" stroke-width="11"/>
<use href="#bYb" stroke-width="8.6"/>
<use href="#bTb" stroke-width="6.4"/>
<use href="#bMb" stroke-width="3.7"/>
<use href="#bUb" stroke-width="2.3"/>
<use href="#bDb" stroke-width="1.6" stroke="#ffd860"/>
</g>
<g stroke="#ffffff" stroke-linecap="round">
<use href="#bXb" stroke-width="8.2"/>
<use href="#bYb" stroke-width="5.9"/>
<use href="#bTb" stroke-width="3.9"/>
<use href="#bMb" stroke-width="1.7"/>
</g>
<use href="#bSb" stroke="#fff0e6" stroke-width="2.4" stroke-dasharray="2.7 2.1" stroke-linecap="butt"/>
<ellipse cx="567.0" cy="795.0" rx="13.3" ry="22.8" fill="url(#blob)"/>
<ellipse cx="937.0" cy="797.0" rx="11.4" ry="17.1" fill="url(#blob)"/>
<rect x="539" y="522.5" width="432" height="10" fill="#a00000" opacity="0.8" filter="url(#bl2)"/><rect x="539" y="525.4" width="432" height="4.2" fill="#ff1800" filter="url(#bl1)"/><rect x="556" y="526.4" width="400" height="2.2" fill="#ffd0c0"/>

<rect x="685.3" y="264" width="1.6" height="528" fill="#e9d2d2"/>
<rect x="770.0" y="264" width="1.6" height="528" fill="#e9d2d2"/>
<rect x="796.3" y="264" width="1.6" height="528" fill="#e9d2d2"/>
<path d="M540.2 527.5H970.0" stroke="#fff" stroke-width="2.2" stroke-dasharray="2.1 2.65" fill="none"/>
</g>
<rect x="539.2" y="255.0" width="430.8" height="545.0" fill="none" stroke="#000" stroke-width="1.7"/>
<path d="M538.4 255.0H970.9M538.4 800.0H970.9" stroke="#000" stroke-width="2.3" fill="none"/>
<path d="M539.2 391.5h5M970.0 391.5h-5" stroke="#000" stroke-width="1.4"/>
<path d="M539.2 527.5h5M970.0 527.5h-5" stroke="#000" stroke-width="1.4"/>
<path d="M539.2 663.5h5M970.0 663.5h-5" stroke="#000" stroke-width="1.4"/>
<path d="M686.1 800v-7" stroke="#000" stroke-width="1" opacity="0.6"/>
<path d="M770.8 800v-7" stroke="#000" stroke-width="1" opacity="0.6"/>
<path d="M797.1 800v-7" stroke="#000" stroke-width="1" opacity="0.6"/>
<defs><clipPath id="cpc"><rect x="979.0" y="254.7" width="432.0" height="545.3"/></clipPath>
<g id="bTc" fill="none" stroke-linejoin="round"><path d="M1036.6 637.3C1037.9 637.4 1042.4 636.2 1044.6 638.2C1046.8 640.2 1048.2 643.9 1050.0 649.0C1051.8 654.1 1053.6 662.1 1055.4 668.6C1057.2 675.1 1059.3 683.0 1060.7 688.2C1062.1 693.4 1063.5 698.0 1064.0 700.0"/><path d="M1252.0 783.5C1252.7 782.6 1254.4 780.4 1256.0 778.0C1257.6 775.6 1259.0 773.3 1261.4 769.0C1263.8 764.7 1268.8 754.8 1270.3 752.0"/><path d="M974.0 604.5C975.8 603.8 981.6 601.8 985.0 600.5C988.4 599.2 993.0 597.6 994.6 597.0"/><path d="M974.0 621.0C976.5 623.0 985.6 628.6 989.3 632.9C993.0 637.2 994.0 642.0 996.4 647.0C998.8 652.0 1001.2 658.1 1003.6 663.2C1006.0 668.3 1008.5 673.3 1010.7 677.5C1012.9 681.7 1016.0 686.4 1017.0 688.2"/><path d="M1017.0 688.2C1018.3 685.5 1022.5 677.4 1025.0 672.0C1027.5 666.6 1030.1 660.5 1032.0 656.0C1033.9 651.5 1035.8 646.8 1036.6 645.0"/><path d="M1036.6 645.0C1037.3 646.5 1039.4 649.8 1041.0 654.3C1042.6 658.8 1044.6 665.8 1046.4 672.0C1048.2 678.2 1049.7 685.5 1051.8 691.8C1053.9 698.1 1056.6 704.2 1059.0 709.6C1061.4 715.0 1063.7 719.6 1066.0 724.0C1068.3 728.4 1071.8 734.0 1073.0 736.0"/><path d="M1350.6 629.2C1352.1 631.3 1356.5 637.5 1359.5 641.7C1362.5 645.9 1365.7 649.7 1368.4 654.2C1371.1 658.7 1373.8 665.5 1375.6 668.5C1377.4 671.5 1377.8 672.6 1379.0 672.0C1380.2 671.4 1381.5 669.2 1382.7 665.0C1383.9 660.8 1385.1 654.5 1386.3 647.0C1387.5 639.5 1388.7 627.7 1389.9 620.3C1391.1 612.9 1392.2 606.0 1393.4 602.5C1394.6 599.0 1395.2 598.4 1397.0 599.0C1398.8 599.6 1401.0 604.3 1404.0 606.0C1407.0 607.7 1413.2 608.5 1415.0 609.0"/><path d="M1323.0 786.5C1322.2 787.0 1321.3 789.6 1318.5 789.8C1315.7 790.0 1310.8 787.4 1306.0 787.5C1301.2 787.6 1295.0 788.6 1290.0 790.5C1285.0 792.4 1279.7 796.1 1275.7 799.0C1271.7 801.9 1267.6 806.5 1266.0 808.0"/><path d="M1415.0 622.0C1412.6 625.0 1404.2 632.8 1400.6 640.0C1397.0 647.2 1395.8 654.9 1393.4 665.0C1391.0 675.1 1388.7 689.9 1386.3 700.6C1383.9 711.3 1381.1 720.1 1379.0 729.0C1376.9 737.9 1375.3 745.3 1373.8 754.0C1372.3 762.7 1371.1 773.2 1370.2 781.0C1369.3 788.8 1368.7 797.7 1368.4 801.0"/></g>
<g id="bMc" fill="none" stroke-linejoin="round"><path d="M1050.4 355.6C1051.3 359.7 1053.8 373.1 1056.0 380.0C1058.2 386.9 1060.8 391.0 1063.6 397.0C1066.4 403.0 1070.5 409.7 1073.0 416.0C1075.5 422.3 1077.2 429.8 1078.7 434.8C1080.2 439.8 1081.5 444.1 1082.0 446.0"/><path d="M1000.5 493.5C1001.5 493.2 1004.6 492.2 1006.5 491.7C1008.4 491.2 1010.5 490.9 1012.0 490.7C1013.5 490.5 1013.6 489.4 1015.5 490.5C1017.4 491.6 1021.1 495.4 1023.5 497.5C1025.9 499.6 1028.9 502.1 1030.0 503.0"/><path d="M974.0 512.0C975.0 511.9 977.6 511.8 979.8 511.5C982.0 511.2 984.8 511.2 987.0 510.3C989.2 509.4 991.2 507.7 993.2 506.0C995.2 504.3 997.9 501.6 999.2 500.0C1000.5 498.4 1000.5 497.4 1001.0 496.3C1001.5 495.2 1002.2 494.0 1002.5 493.5"/><path d="M1389.0 492.5C1388.3 492.4 1386.3 491.9 1384.9 491.6C1383.5 491.3 1381.8 490.8 1380.5 490.6C1379.2 490.4 1378.8 489.8 1377.0 490.4C1375.2 491.0 1371.2 493.8 1370.0 494.5"/><path d="M1416.0 513.0C1414.8 512.9 1411.3 513.2 1408.8 512.5C1406.3 511.8 1403.5 510.2 1401.0 508.6C1398.5 507.0 1395.4 504.5 1393.5 502.9C1391.6 501.3 1390.5 500.6 1389.6 499.0C1388.7 497.4 1388.3 494.0 1388.0 493.0"/><path d="M975.0 547.5C975.9 548.0 977.4 548.7 980.4 550.7C983.4 552.7 987.8 556.3 992.9 559.6C998.0 562.9 1006.5 567.1 1010.7 570.4C1014.9 573.7 1015.8 575.4 1017.9 579.3C1020.0 583.2 1021.4 588.2 1023.2 593.6C1025.0 599.0 1027.1 605.5 1028.6 611.4C1030.1 617.3 1030.8 625.0 1032.1 629.3C1033.4 633.6 1035.8 636.0 1036.6 637.3"/><path d="M1270.3 752.0C1271.5 749.5 1274.7 741.2 1277.4 737.0C1280.1 732.8 1283.1 730.1 1286.4 727.0C1289.7 723.9 1293.4 722.2 1297.0 718.4C1300.6 714.6 1304.8 708.7 1307.8 704.2C1310.8 699.8 1312.6 697.1 1315.0 691.7C1317.4 686.3 1319.6 678.2 1322.0 672.0C1324.4 665.8 1326.8 659.5 1329.2 654.2C1331.6 648.9 1333.9 643.9 1336.3 640.0C1338.7 636.1 1341.1 632.8 1343.5 631.0C1345.9 629.2 1348.2 630.1 1350.6 629.2C1353.0 628.3 1355.9 628.7 1357.7 625.7C1359.5 622.7 1360.1 616.8 1361.3 611.4C1362.5 606.0 1363.4 598.9 1364.9 593.5C1366.4 588.1 1367.9 583.2 1370.2 579.3C1372.5 575.4 1375.4 573.3 1379.0 570.3C1382.6 567.3 1385.4 565.1 1391.6 561.4C1397.8 557.7 1411.9 550.2 1416.0 548.0"/><path d="M981.0 552.0C981.6 553.0 983.3 555.5 984.5 558.0C985.7 560.5 986.6 563.7 988.0 567.0C989.4 570.3 991.3 575.2 993.0 578.0C994.7 580.8 996.2 582.5 998.0 584.0C999.8 585.5 1001.8 585.8 1003.6 586.8C1005.4 587.8 1007.2 587.7 1009.0 590.0C1010.8 592.3 1012.5 595.9 1014.3 600.7C1016.1 605.5 1017.8 612.7 1019.6 618.6C1021.4 624.5 1023.1 631.7 1025.0 636.4C1026.9 641.1 1029.1 645.4 1031.0 647.0C1032.9 648.6 1035.7 646.2 1036.6 646.0"/><path d="M994.6 597.0C993.5 598.2 989.5 601.2 988.0 604.0C986.5 606.8 985.6 610.3 985.5 614.0C985.4 617.7 986.4 622.7 987.5 626.0C988.6 629.3 991.2 632.7 992.0 634.0"/><path d="M1001.5 801.0C1002.4 795.3 1005.1 767.0 1007.0 767.0C1008.9 767.0 1011.8 795.3 1012.8 801.0"/><path d="M1415.0 561.0C1412.0 562.5 1401.5 566.7 1397.0 570.3C1392.5 573.9 1390.7 579.2 1388.0 582.8C1385.3 586.4 1382.8 586.9 1381.0 591.7C1379.2 596.5 1378.6 604.5 1377.4 611.4C1376.2 618.2 1375.0 626.9 1373.8 632.8C1372.6 638.7 1371.1 642.2 1370.2 647.0C1369.3 651.8 1368.7 658.9 1368.4 661.3"/><path d="M1329.5 775.0C1329.2 776.0 1328.5 779.1 1327.4 781.0C1326.3 782.9 1323.7 785.6 1323.0 786.5"/><path d="M1379.0 672.0C1378.4 676.8 1377.4 689.9 1375.6 700.6C1373.8 711.3 1370.8 724.4 1368.4 736.3C1366.0 748.2 1363.1 761.2 1361.3 772.0C1359.5 782.8 1358.3 796.2 1357.7 801.0"/><path d="M1415.0 645.0C1412.3 648.3 1402.7 657.2 1398.8 665.0C1394.9 672.8 1394.0 682.8 1391.6 691.7C1389.2 700.6 1386.6 712.2 1384.5 718.4C1382.4 724.6 1379.3 723.1 1379.0 729.0C1378.7 734.9 1381.5 746.8 1382.7 754.0C1383.9 761.2 1384.8 764.2 1386.3 772.0C1387.8 779.8 1390.7 796.2 1391.6 801.0"/></g>
<g id="bSc" fill="none" stroke-linejoin="round"><path d="M1034.5 250.0C1035.2 256.3 1037.3 275.1 1039.0 287.7C1040.7 300.3 1042.9 314.1 1044.8 325.4C1046.7 336.7 1049.5 350.6 1050.4 355.6"/><path d="M1082.0 446.0C1082.4 447.3 1083.1 448.7 1084.4 453.7C1085.7 458.7 1088.1 468.4 1090.0 476.0C1091.9 483.6 1093.8 492.7 1095.7 499.0C1097.6 505.3 1099.5 510.2 1101.4 514.0C1103.3 517.8 1104.8 519.9 1107.0 521.6C1109.2 523.3 1111.2 523.8 1114.6 524.4C1118.0 525.0 1122.4 525.2 1127.4 525.4C1132.4 525.6 1140.9 526.7 1144.7 525.4C1148.5 524.1 1148.9 522.9 1150.4 517.8C1152.0 512.7 1152.7 503.5 1154.0 495.0C1155.3 486.5 1156.7 477.3 1158.0 467.0C1159.3 456.7 1160.5 444.7 1161.7 433.0C1163.0 421.3 1164.2 408.7 1165.5 397.0C1166.8 385.3 1168.0 374.9 1169.3 363.0C1170.5 351.1 1171.8 337.9 1173.0 325.4C1174.2 312.8 1175.6 300.3 1176.8 287.7C1178.0 275.1 1179.5 256.3 1180.0 250.0"/><path d="M1096.0 540.0C1096.3 541.1 1097.0 543.2 1097.9 546.9C1098.9 550.6 1100.1 556.0 1101.7 562.0C1103.3 568.0 1105.6 576.2 1107.5 583.0C1109.4 589.8 1111.1 596.7 1113.0 602.5C1114.9 608.3 1117.2 614.1 1119.0 618.0C1120.8 621.9 1122.2 624.1 1123.5 626.0C1124.8 627.9 1125.7 629.4 1126.9 629.4C1128.1 629.4 1129.3 627.9 1130.5 626.0C1131.7 624.1 1132.7 622.2 1134.3 618.0C1135.9 613.8 1138.4 606.7 1140.0 600.6C1141.6 594.5 1142.7 588.4 1144.0 581.4C1145.3 574.4 1146.5 566.0 1147.8 558.4C1149.0 550.8 1150.9 539.7 1151.5 536.0"/><path d="M1001.0 501.2C1001.7 503.2 1003.8 509.7 1005.3 513.3C1006.8 516.9 1008.4 520.7 1010.0 523.0C1011.6 525.3 1012.8 525.8 1015.0 527.2C1017.2 528.6 1022.1 530.8 1023.5 531.5"/><path d="M1013.8 495.0C1014.4 497.0 1015.8 503.5 1017.4 507.2C1019.0 510.9 1021.5 514.4 1023.5 517.0C1025.5 519.6 1027.5 521.4 1029.5 523.0C1031.5 524.6 1034.6 526.0 1035.6 526.6"/><path d="M1380.0 495.0C1379.0 497.6 1376.5 506.0 1374.3 510.5C1372.1 515.0 1369.8 518.5 1366.6 522.0C1363.4 525.5 1356.9 530.1 1355.0 531.7"/><path d="M1387.7 499.0C1387.1 501.6 1385.5 510.2 1383.9 514.4C1382.3 518.6 1380.6 521.1 1378.0 524.0C1375.4 526.9 1370.1 530.4 1368.5 531.7"/><path d="M1038.4 665.0C1039.2 669.5 1041.3 682.9 1042.9 691.8C1044.5 700.7 1046.4 708.2 1048.2 718.6C1050.0 729.0 1051.8 743.9 1053.6 754.3C1055.4 764.7 1057.7 773.2 1059.0 781.0C1060.3 788.8 1061.2 797.7 1061.6 801.0"/><path d="M1053.6 688.2C1054.5 691.8 1057.2 702.2 1059.0 709.6C1060.8 717.0 1062.5 724.0 1064.3 732.9C1066.1 741.8 1067.8 753.7 1069.6 763.2C1071.4 772.7 1073.8 783.7 1075.0 790.0C1076.2 796.3 1076.5 799.2 1076.8 801.0"/><path d="M1352.4 640.0C1351.8 644.2 1350.3 654.9 1348.8 665.0C1347.3 675.1 1345.3 688.7 1343.5 700.6C1341.7 712.5 1339.5 727.2 1338.0 736.3C1336.5 745.4 1335.1 751.9 1334.5 755.0"/><path d="M1368.4 654.2C1367.8 659.0 1366.4 672.1 1364.9 682.8C1363.4 693.5 1361.3 706.5 1359.5 718.4C1357.7 730.3 1356.0 740.2 1354.2 754.0C1352.4 767.8 1349.7 793.2 1348.8 801.0"/></g>
<g id="bDc" fill="none" stroke-linejoin="round"><path d="M994.6 597.0C995.2 598.5 997.0 600.6 998.2 606.0C999.4 611.4 1000.6 621.0 1001.8 629.3C1003.0 637.6 1004.2 647.0 1005.4 656.0C1006.6 665.0 1008.1 675.5 1009.0 683.0C1009.9 690.5 1010.1 694.8 1010.7 700.7C1011.3 706.6 1012.0 708.7 1012.5 718.6C1013.0 728.5 1013.1 746.3 1013.4 760.0C1013.6 773.7 1013.9 794.2 1014.0 801.0"/><path d="M1017.0 688.2C1016.8 690.5 1016.0 697.5 1015.5 702.0C1015.0 706.5 1014.8 709.5 1014.0 715.0C1013.2 720.5 1012.3 727.5 1011.0 735.0C1009.7 742.5 1007.5 749.0 1006.0 760.0C1004.5 771.0 1002.7 794.2 1002.0 801.0"/></g>
<g id="bUc" fill="none" stroke-linejoin="round"><path d="M1030.0 503.0C1030.9 503.7 1032.6 505.1 1035.6 507.2C1038.5 509.3 1044.1 513.1 1047.7 515.7C1051.3 518.3 1054.2 521.3 1057.4 523.0C1060.6 524.7 1062.6 525.0 1067.0 525.8C1071.4 526.6 1079.2 527.2 1084.0 528.0C1088.8 528.8 1089.2 529.4 1096.0 530.5C1102.8 531.6 1120.2 533.8 1125.0 534.5"/><path d="M1023.5 531.5C1025.5 532.3 1031.6 535.1 1035.6 536.3C1039.6 537.5 1043.7 538.1 1047.7 538.7C1051.7 539.3 1054.4 539.5 1059.8 540.0C1065.2 540.5 1076.6 541.2 1080.0 541.5"/><path d="M1035.6 526.6C1037.6 527.6 1043.7 531.1 1047.7 532.7C1051.7 534.3 1055.8 535.5 1059.8 536.3C1063.8 537.1 1067.0 537.2 1072.0 537.5C1077.0 537.8 1087.0 537.9 1090.0 538.0"/><path d="M1370.0 494.5C1368.8 495.2 1366.6 496.3 1362.8 499.0C1359.0 501.7 1351.9 506.7 1347.4 510.5C1342.9 514.3 1339.7 519.0 1335.9 522.0C1332.1 525.0 1328.9 526.9 1324.4 528.8C1319.9 530.7 1315.4 532.3 1309.0 533.6C1302.6 534.9 1293.8 536.0 1286.0 536.8C1278.2 537.6 1269.7 538.0 1262.0 538.5C1254.3 539.0 1243.7 539.3 1240.0 539.5"/><path d="M1355.0 531.7C1352.5 532.7 1345.5 536.1 1339.7 537.4C1333.9 538.7 1326.6 539.0 1320.0 539.5C1313.4 540.0 1303.3 540.3 1300.0 540.5"/><path d="M1368.5 531.7C1365.9 532.7 1358.6 536.0 1353.0 537.4C1347.4 538.8 1341.3 539.3 1335.0 540.0C1328.7 540.7 1318.3 541.2 1315.0 541.5"/><path d="M1125.0 534.5C1128.3 534.6 1139.2 534.8 1145.0 535.0C1150.8 535.2 1153.3 535.5 1160.0 536.0C1166.7 536.5 1177.5 537.5 1185.0 538.0C1192.5 538.5 1195.8 539.0 1205.0 539.2C1214.2 539.5 1234.2 539.5 1240.0 539.5"/><path d="M1334.5 755.0C1334.2 756.3 1333.6 759.7 1332.8 763.0C1332.0 766.3 1330.0 773.0 1329.5 775.0"/></g>
<g id="bGc" fill="none" stroke-linejoin="round"><path d="M974.0 383.0C975.2 385.8 978.8 392.4 981.0 400.0C983.2 407.6 985.2 419.7 987.0 428.5C988.8 437.3 990.6 445.6 992.0 452.7C993.4 459.8 994.4 464.8 995.6 470.9C996.8 476.9 998.6 486.0 999.2 489.0"/><path d="M986.0 418.0C987.2 421.8 991.0 433.8 993.2 440.6C995.4 447.4 997.2 453.2 999.2 458.8C1001.2 464.4 1003.3 470.1 1005.3 474.5C1007.3 478.9 1009.7 483.0 1011.3 485.4C1012.9 487.8 1014.4 488.4 1015.0 489.0"/><path d="M1416.0 383.0C1414.8 385.8 1410.8 394.1 1409.0 400.0C1407.2 405.9 1406.6 410.6 1405.0 418.4C1403.4 426.2 1401.5 438.4 1399.3 447.0C1397.1 455.6 1393.8 463.9 1391.6 470.0C1389.3 476.1 1387.4 480.5 1385.8 483.7C1384.2 486.9 1382.6 488.4 1382.0 489.4"/><path d="M1402.5 428.0C1402.2 429.6 1402.2 431.2 1401.0 437.6C1399.8 444.0 1397.3 458.4 1395.4 466.4C1393.5 474.4 1390.9 481.5 1389.6 485.6C1388.3 489.8 1388.0 490.4 1387.7 491.3"/><path d="M974.0 628.0C975.3 630.0 979.0 634.3 982.0 640.0C985.0 645.7 989.0 653.7 992.0 662.0C995.0 670.3 997.3 681.2 1000.0 690.0C1002.7 698.8 1005.7 706.7 1008.0 715.0C1010.3 723.3 1012.0 731.7 1014.0 740.0C1016.0 748.3 1018.2 754.8 1020.0 765.0C1021.8 775.2 1024.2 795.0 1025.0 801.0"/><path d="M974.0 645.0C975.3 648.2 979.3 655.8 982.0 664.0C984.7 672.2 987.5 683.3 990.0 694.0C992.5 704.7 994.8 716.7 997.0 728.0C999.2 739.3 1001.3 749.8 1003.0 762.0C1004.7 774.2 1006.3 794.5 1007.0 801.0"/></g>
<g id="bXc" fill="none" stroke-linejoin="round"><path d="M1076.0 735.0C1076.7 736.3 1077.1 739.0 1080.0 743.0C1082.9 747.0 1088.8 754.8 1093.3 759.0C1097.8 763.2 1101.1 765.7 1106.7 768.0C1112.3 770.3 1122.3 771.3 1126.7 773.0C1131.1 774.7 1130.8 776.1 1133.0 778.0C1135.2 779.9 1137.8 784.2 1140.0 784.5C1142.2 784.8 1143.8 782.5 1146.0 780.0C1148.2 777.5 1150.3 774.0 1153.3 769.3C1156.3 764.6 1160.7 755.8 1164.0 752.0C1167.3 748.2 1170.2 746.5 1173.3 746.7C1176.4 746.9 1179.4 748.9 1182.7 753.3C1186.0 757.7 1189.8 767.5 1193.3 773.3C1196.8 779.1 1201.0 784.5 1204.0 788.0C1207.0 791.5 1205.8 793.0 1211.3 794.0C1216.8 795.0 1232.0 794.3 1237.3 794.0C1242.6 793.7 1242.0 792.3 1243.0 792.0"/><path d="M1070.0 800.0C1073.0 798.9 1082.2 795.2 1088.0 793.5C1093.8 791.8 1098.5 790.7 1105.0 789.5C1111.5 788.3 1123.3 787.0 1127.0 786.5"/></g>
<g id="bFc" fill="none" stroke-linejoin="round"><path d="M974.0 542.5C985.0 542.5 1019.0 542.5 1040.0 542.6C1061.0 542.7 1081.7 543.0 1100.0 543.0C1118.3 543.0 1133.3 542.9 1150.0 542.6C1166.7 542.3 1175.0 541.5 1200.0 541.3C1225.0 541.1 1278.3 541.1 1300.0 541.3C1321.7 541.5 1316.7 542.0 1330.0 542.5C1343.3 543.0 1365.7 544.0 1380.0 544.5C1394.3 545.0 1410.0 545.3 1416.0 545.5"/></g>
<g id="bYc" fill="none" stroke-linejoin="round"><path d="M1064.0 700.0C1064.3 701.3 1064.8 703.9 1066.0 707.9C1067.2 711.9 1069.7 719.4 1071.4 723.9C1073.1 728.4 1075.2 733.1 1076.0 735.0"/><path d="M1243.0 792.0C1243.6 791.5 1245.2 790.7 1246.7 789.3C1248.2 787.9 1251.1 784.5 1252.0 783.5"/><path d="M974.0 604.5C975.0 604.2 977.8 603.2 980.0 602.5C982.2 601.8 985.8 600.4 987.0 600.0"/><path d="M974.0 620.5C975.2 621.4 978.5 623.9 981.0 626.0C983.5 628.1 987.9 631.8 989.3 632.9"/><path d="M1416.0 609.0C1415.0 608.8 1412.0 608.2 1410.0 607.7C1408.0 607.2 1405.0 606.3 1404.0 606.0"/><path d="M1416.0 621.0C1414.7 622.5 1410.6 626.8 1408.0 630.0C1405.4 633.2 1401.8 638.3 1400.6 640.0"/></g>
</defs>
<g clip-path="url(#cpc)">
<rect x="979.0" y="254.7" width="432.0" height="545.3" fill="url(#pbgc)"/>
<rect x="960" y="536" width="470" height="20" fill="#900000" opacity="0.8" filter="url(#bl8)"/><ellipse cx="1094" cy="258" rx="22" ry="14" fill="#c00000" opacity="0.8" filter="url(#bl8)"/><ellipse cx="1118" cy="786" rx="50" ry="20" fill="#d00000" opacity="0.7" filter="url(#bl8)"/><ellipse cx="1173" cy="735" rx="22" ry="14" fill="#900000" opacity="0.6" filter="url(#bl8)"/>
<defs><linearGradient id="efc" gradientUnits="userSpaceOnUse" x1="0" x2="0" y1="530" y2="800"><stop offset="0" stop-color="#f00000" stop-opacity="0.9"/><stop offset="0.3" stop-color="#e00000" stop-opacity="0.75"/><stop offset="0.6" stop-color="#b00000" stop-opacity="0.45"/><stop offset="1" stop-color="#800000" stop-opacity="0.25"/></linearGradient></defs><path d="M977.0 548.0L994.0 559.0L1006.0 571.0L1006.0 587.0L1006.0 614.0L1006.0 636.0L1006.0 640.0L1006.0 655.0L1006.0 675.0L1006.0 700.0L1006.0 725.0L1006.0 760.0L1006.0 802.0L977.0 802.0Z" fill="url(#efc)" filter="url(#bl4)"/><path d="M1413.0 550.0L1392.0 562.0L1384.0 572.0L1384.0 582.0L1384.0 596.0L1384.0 614.0L1384.0 628.0L1384.0 634.0L1384.0 665.0L1384.0 700.0L1384.0 736.0L1384.0 765.0L1384.0 802.0L1413.0 802.0Z" fill="url(#efc)" filter="url(#bl4)"/>
<use href="#bGc" stroke="#c00000" stroke-width="24" filter="url(#bl4)" opacity="0.9" style="mix-blend-mode:lighten"/>
<use href="#bGc" stroke="#ff3000" stroke-width="13" filter="url(#bl4)" style="mix-blend-mode:lighten"/>
<use href="#bGc" stroke="#ff9800" stroke-width="5.5" filter="url(#bl2)" style="mix-blend-mode:lighten"/>
<use href="#bFc" stroke="#b40000" stroke-width="21" filter="url(#bl4)" opacity="0.95" style="mix-blend-mode:lighten"/>
<use href="#bFc" stroke="#ff2800" stroke-width="14" filter="url(#bl2)" style="mix-blend-mode:lighten"/>
<use href="#bFc" stroke="#ffa800" stroke-width="10" filter="url(#bl1)" style="mix-blend-mode:lighten"/>
<use href="#bFc" stroke="#ffe030" stroke-width="6.6" filter="url(#bl1)" style="mix-blend-mode:lighten"/>
<use href="#bFc" stroke="#fff8a8" stroke-width="2.6" filter="url(#bl1)" style="mix-blend-mode:lighten"/>
<g filter="url(#bl4)" stroke="#b40000" opacity="0.95" stroke-linecap="round" style="mix-blend-mode:lighten">
<use href="#bXc" stroke-width="27"/>
<use href="#bYc" stroke-width="24"/>
<use href="#bTc" stroke-width="21"/>
<use href="#bMc" stroke-width="14.5"/>
<use href="#bDc" stroke-width="11"/>
<use href="#bUc" stroke-width="8"/>
<use href="#bSc" stroke-width="7" opacity="0.8"/>
</g>
<g filter="url(#bl2)" stroke="#ff2800" stroke-linecap="round" style="mix-blend-mode:lighten">
<use href="#bXc" stroke-width="19"/>
<use href="#bYc" stroke-width="16"/>
<use href="#bTc" stroke-width="13.5"/>
<use href="#bMc" stroke-width="9"/>
<use href="#bDc" stroke-width="6.5"/>
<use href="#bUc" stroke-width="5.5"/>
<use href="#bSc" stroke-width="3.7"/>
</g>
<g filter="url(#bl1)" stroke="#ffb400" stroke-linecap="round" style="mix-blend-mode:lighten">
<use href="#bXc" stroke-width="14"/>
<use href="#bYc" stroke-width="11.6"/>
<use href="#bTc" stroke-width="9.4"/>
<use href="#bMc" stroke-width="6"/>
<use href="#bDc" stroke-width="3.8"/>
<use href="#bUc" stroke-width="3.6"/>
</g>
<g filter="url(#bl05)" stroke="#fffbd0" stroke-linecap="round" style="mix-blend-mode:lighten">
<use href="#bXc" stroke-width="11"/>
<use href="#bYc" stroke-width="8.6"/>
<use href="#bTc" stroke-width="6.4"/>
<use href="#bMc" stroke-width="3.7"/>
<use href="#bUc" stroke-width="2.3"/>
<use href="#bDc" stroke-width="1.6" stroke="#ffd860"/>
</g>
<g stroke="#ffffff" stroke-linecap="round">
<use href="#bXc" stroke-width="8.2"/>
<use href="#bYc" stroke-width="5.9"/>
<use href="#bTc" stroke-width="3.9"/>
<use href="#bMc" stroke-width="1.7"/>
</g>
<use href="#bSc" stroke="#fff0e6" stroke-width="2.4" stroke-dasharray="2.7 2.1" stroke-linecap="butt"/>
<ellipse cx="1381.0" cy="788.0" rx="9.5" ry="22.8" fill="url(#blob)"/>

<ellipse cx="980.5" cy="408" rx="3.6" ry="24" fill="#ffdc20" opacity="0.95" filter="url(#bl2)"/><ellipse cx="1410" cy="408" rx="3.6" ry="24" fill="#ffdc20" opacity="0.95" filter="url(#bl2)"/><ellipse cx="1093.8" cy="256" rx="15" ry="9" fill="#ff7000" filter="url(#bl2)"/><ellipse cx="1093.8" cy="256" rx="12.5" ry="6.5" fill="#fff6c0" filter="url(#bl1)"/>
<rect x="1126.6" y="264" width="1.6" height="528" fill="#e9d2d2"/>
<rect x="1210.8" y="264" width="1.6" height="528" fill="#e9d2d2"/>
<rect x="1236.5" y="264" width="1.6" height="528" fill="#e9d2d2"/>
<path d="M980.0 527.5H1411.0" stroke="#fff" stroke-width="2.2" stroke-dasharray="2.1 2.65" fill="none"/>
</g>
<rect x="979.0" y="254.7" width="432.0" height="545.3" fill="none" stroke="#000" stroke-width="1.7"/>
<path d="M978.1 254.7H1411.8M978.1 800.0H1411.8" stroke="#000" stroke-width="2.3" fill="none"/>
<path d="M979.0 391.5h5M1411.0 391.5h-5" stroke="#000" stroke-width="1.4"/>
<path d="M979.0 527.5h5M1411.0 527.5h-5" stroke="#000" stroke-width="1.4"/>
<path d="M979.0 663.5h5M1411.0 663.5h-5" stroke="#000" stroke-width="1.4"/>
<path d="M1127.4 800v-7" stroke="#000" stroke-width="1" opacity="0.6"/>
<path d="M1211.6 800v-7" stroke="#000" stroke-width="1" opacity="0.6"/>
<path d="M1237.3 800v-7" stroke="#000" stroke-width="1" opacity="0.6"/>
<text x="29.7" y="521.5" font-family="'Liberation Sans', Arial, Helvetica, sans-serif" font-size="40.0" text-anchor="middle" font-weight="normal" font-style="normal" fill="#000" transform="rotate(-90 29.7 521.5)" stroke="#000" stroke-width="0.65">Enery (eV)</text>
<text x="86.3" y="287.0" font-family="'Liberation Sans', Arial, Helvetica, sans-serif" font-size="39.0" text-anchor="end" font-weight="normal" font-style="normal" fill="#000" stroke="#000" stroke-width="0.65">1</text>
<text x="86.3" y="550.4" font-family="'Liberation Sans', Arial, Helvetica, sans-serif" font-size="39.0" text-anchor="end" font-weight="normal" font-style="normal" fill="#000" stroke="#000" stroke-width="0.65">0</text>
<text x="86.3" y="803.5" font-family="'Liberation Sans', Arial, Helvetica, sans-serif" font-size="39.0" text-anchor="end" font-weight="normal" font-style="normal" fill="#000" stroke="#000" stroke-width="0.65">-1</text>
<text x="100.6" y="840.0" font-family="'Liberation Serif', 'Times New Roman', serif" font-size="43.5" text-anchor="start" font-weight="normal" font-style="normal" fill="#000" stroke="#000" stroke-width="0.65">&#915;</text>
<text x="534.0" y="840.0" font-family="'Liberation Serif', 'Times New Roman', serif" font-size="43.5" text-anchor="end" font-weight="normal" font-style="normal" fill="#000" stroke="#000" stroke-width="0.65">&#915;</text>
<text x="247.8" y="840.0" font-family="'Liberation Sans', Arial, Helvetica, sans-serif" font-size="40.0" text-anchor="middle" font-weight="normal" font-style="normal" fill="#000" stroke="#000" stroke-width="0.65">M</text>
<text x="319.3" y="840.0" font-family="'Liberation Sans', Arial, Helvetica, sans-serif" font-size="40.0" text-anchor="start" font-weight="normal" font-style="normal" fill="#000" stroke="#000" stroke-width="0.65">KH</text>
<text x="537.9" y="840.0" font-family="'Liberation Serif', 'Times New Roman', serif" font-size="43.5" text-anchor="start" font-weight="normal" font-style="normal" fill="#000" stroke="#000" stroke-width="0.65">&#915;</text>
<text x="974.0" y="840.0" font-family="'Liberation Serif', 'Times New Roman', serif" font-size="43.5" text-anchor="end" font-weight="normal" font-style="normal" fill="#000" stroke="#000" stroke-width="0.65">&#915;</text>
<text x="687.5" y="840.0" font-family="'Liberation Sans', Arial, Helvetica, sans-serif" font-size="40.0" text-anchor="middle" font-weight="normal" font-style="normal" fill="#000" stroke="#000" stroke-width="0.65">M</text>
<text x="756.3" y="840.0" font-family="'Liberation Sans', Arial, Helvetica, sans-serif" font-size="40.0" text-anchor="start" font-weight="normal" font-style="normal" fill="#000" stroke="#000" stroke-width="0.65">KH</text>
<text x="977.2" y="840.0" font-family="'Liberation Serif', 'Times New Roman', serif" font-size="43.5" text-anchor="start" font-weight="normal" font-style="normal" fill="#000" stroke="#000" stroke-width="0.65">&#915;</text>
<text x="1414.0" y="840.0" font-family="'Liberation Serif', 'Times New Roman', serif" font-size="43.5" text-anchor="end" font-weight="normal" font-style="normal" fill="#000" stroke="#000" stroke-width="0.65">&#915;</text>
<text x="1124.8" y="840.0" font-family="'Liberation Sans', Arial, Helvetica, sans-serif" font-size="40.0" text-anchor="middle" font-weight="normal" font-style="normal" fill="#000" stroke="#000" stroke-width="0.65">M</text>
<text x="1196.3" y="840.0" font-family="'Liberation Sans', Arial, Helvetica, sans-serif" font-size="40.0" text-anchor="start" font-weight="normal" font-style="normal" fill="#000" stroke="#000" stroke-width="0.65">KH</text>
<text x="112.4" y="304.7" font-family="'Liberation Sans', Arial, Helvetica, sans-serif" font-size="40.6" text-anchor="start" font-weight="bold" font-style="normal" fill="#fff" stroke="#fff" stroke-width="0.5">a</text>
<text x="373.0" y="335.0" font-family="'Liberation Sans', Arial, Helvetica, sans-serif" font-size="40.2" text-anchor="start" font-weight="normal" font-style="normal" fill="#fff" stroke="#fff" stroke-width="0.65">60 GPa</text>
<text x="546.0" y="304.7" font-family="'Liberation Sans', Arial, Helvetica, sans-serif" font-size="42.0" text-anchor="start" font-weight="bold" font-style="normal" fill="#fff" stroke="#fff" stroke-width="0.5">b</text>
<text x="821.0" y="332.5" font-family="'Liberation Sans', Arial, Helvetica, sans-serif" font-size="40.2" text-anchor="start" font-weight="normal" font-style="normal" fill="#fff" stroke="#fff" stroke-width="0.65">75 GPa</text>
<text x="987.2" y="302.7" font-family="'Liberation Sans', Arial, Helvetica, sans-serif" font-size="41.2" text-anchor="start" font-weight="bold" font-style="normal" fill="#fff" stroke="#fff" stroke-width="0.5">c</text>
<text x="1237.5" y="331.5" font-family="'Liberation Sans', Arial, Helvetica, sans-serif" font-size="40.2" text-anchor="start" font-weight="normal" font-style="normal" fill="#fff" stroke="#fff" stroke-width="0.65">100 GPa</text>
<defs><linearGradient id="hot" x1="0" x2="0" y1="0" y2="1">
<stop offset="0" stop-color="#ffffff"/><stop offset="0.06" stop-color="#ffffc8"/>
<stop offset="0.254" stop-color="#ffff00"/><stop offset="0.45" stop-color="#ff8000"/>
<stop offset="0.635" stop-color="#ff0000"/><stop offset="0.8" stop-color="#8c0000"/>
<stop offset="0.93" stop-color="#300000"/><stop offset="1" stop-color="#160000"/></linearGradient></defs>
<rect x="1435.5" y="364.5" width="24" height="342" fill="url(#hot)" stroke="#000" stroke-width="1.6"/>
<path d="M1436 398.0h4.5" stroke="#000" stroke-width="1"/>
<path d="M1436 432.4h4.5" stroke="#000" stroke-width="1"/>
<path d="M1436 466.9h4.5" stroke="#000" stroke-width="1"/>
<path d="M1436 501.4h4.5" stroke="#000" stroke-width="1"/>
<path d="M1436 535.8h4.5" stroke="#000" stroke-width="1"/>
<path d="M1436 570.2h4.5" stroke="#000" stroke-width="1"/>
<path d="M1436 604.7h4.5" stroke="#000" stroke-width="1"/>
<path d="M1436 639.2h4.5" stroke="#000" stroke-width="1"/>
<path d="M1436 673.6h4.5" stroke="#000" stroke-width="1"/>
<text x="1419.0" y="344.3" font-family="'Liberation Sans', Arial, Helvetica, sans-serif" font-size="41.5" text-anchor="start" font-weight="normal" font-style="normal" fill="#000" stroke="#000" stroke-width="0.65">Max</text>
<text x="1424.6" y="754.0" font-family="'Liberation Sans', Arial, Helvetica, sans-serif" font-size="41.5" text-anchor="start" font-weight="normal" font-style="normal" fill="#000" stroke="#000" stroke-width="0.65">Min</text>
<g transform="translate(1471 487.5) rotate(90) scale(1 1.14)" font-family="'Liberation Sans', Arial, Helvetica, sans-serif" font-size="37.8" fill="#000" stroke="#000" stroke-width="0.6"><text><tspan font-style="italic">A</tspan>(<tspan font-weight="bold" dx="-2.2">k</tspan><tspan dx="-2.6">,</tspan></text><text transform="translate(67.2 0) skewX(-16)" font-family="'DejaVu Serif', 'Liberation Serif', serif" font-size="36">&#969;</text><text x="95.2">)</text></g>
<defs><clipPath id="cqd"><rect x="111.0" y="895.7" width="424.2" height="489.1"/></clipPath></defs>
<defs><clipPath id="cqe"><rect x="550.7" y="894.8" width="422.0" height="488.7"/></clipPath></defs>
<defs><clipPath id="cqf"><rect x="985.7" y="893.6" width="423.2" height="489.0"/></clipPath></defs>
<g clip-path="url(#cqd)">
<path d="M323.5 895.7V1384.8" stroke="#000" stroke-width="2.6" stroke-dasharray="4 2.6"/>
<path d="M109.8 1302.8C113.6 1304.2 124.6 1308.2 132.5 1311.0C140.4 1313.8 148.4 1315.9 157.4 1319.4C166.4 1322.9 176.7 1327.3 186.4 1331.8C196.1 1336.3 205.1 1341.1 215.4 1346.3C225.8 1351.5 237.5 1358.0 248.5 1362.9C259.5 1367.9 273.0 1373.1 281.6 1376.0C290.2 1378.9 294.5 1379.5 300.0 1380.5C305.5 1381.5 306.1 1381.6 314.8 1382.0C323.5 1382.4 338.9 1383.0 352.0 1382.7C365.1 1382.4 383.1 1381.5 393.5 1380.3C403.9 1379.1 407.3 1378.2 414.2 1375.3C421.1 1372.4 428.0 1369.8 434.9 1362.9C441.8 1356.0 448.7 1346.3 455.6 1333.9C462.5 1321.5 470.8 1301.5 476.3 1288.3C481.8 1275.1 483.9 1265.4 488.7 1255.0C493.5 1244.6 499.8 1232.9 505.3 1226.0C510.8 1219.1 517.7 1216.2 521.8 1213.8C525.9 1211.4 528.6 1212.0 530.0 1211.7" stroke="#16ee16" stroke-width="5.6" fill="none" stroke-linejoin="round" stroke-dasharray="9.5 8"/>
<path d="M109.8 1307.0C112.2 1308.0 118.3 1310.9 124.2 1313.0C130.1 1315.1 138.1 1317.1 145.0 1319.4C151.9 1321.7 160.2 1325.4 165.7 1326.8C171.2 1328.2 174.6 1328.1 178.0 1328.0C181.4 1327.9 182.9 1326.1 186.4 1326.4C189.9 1326.7 194.0 1328.6 198.8 1329.7C203.6 1330.8 208.5 1331.8 215.4 1333.0C222.3 1334.2 231.9 1336.2 240.2 1337.2C248.5 1338.2 258.1 1338.4 265.0 1338.8C271.9 1339.2 277.4 1339.8 281.6 1339.7C285.8 1339.6 287.2 1338.3 290.0 1338.0C292.8 1337.7 295.4 1336.6 298.2 1338.0C300.9 1339.4 304.2 1342.6 306.5 1346.3C308.8 1350.0 310.3 1355.4 312.0 1360.0C313.7 1364.6 315.8 1371.7 316.5 1374.0" stroke="#fb0a0a" stroke-width="5.8" fill="none" stroke-linejoin="round"/>
<path d="M316.5 1374.0L318.3 1376.0L319.4 1300.0L319.9 1234.5L320.6 1300.0L321.8 1370.0L323.2 1374.0L324.4 1350.0L325.3 1315.2L326.5 1340.0L328.5 1364.0L331.0 1372.0" stroke="#fb0a0a" stroke-width="4.6" fill="none" stroke-linejoin="round"/>
<path d="M331.0 1372.0C331.8 1372.9 333.5 1376.1 335.5 1377.4C337.5 1378.7 340.2 1379.1 343.0 1379.6C345.8 1380.1 347.1 1380.5 352.0 1380.3C356.9 1380.1 365.8 1380.1 372.7 1378.6C379.6 1377.0 386.6 1375.0 393.5 1371.0C400.4 1367.0 407.3 1361.5 414.2 1354.6C421.1 1347.7 428.0 1337.3 434.9 1329.7C441.8 1322.1 450.4 1313.5 455.6 1309.0C460.8 1304.5 462.6 1304.4 466.0 1303.0C469.4 1301.6 472.8 1301.0 476.3 1300.7C479.8 1300.4 483.6 1300.7 487.0 1301.0C490.4 1301.3 491.9 1301.5 497.0 1302.8C502.1 1304.1 511.2 1306.7 517.7 1309.0C524.2 1311.3 533.2 1315.2 536.3 1316.5" stroke="#fb0a0a" stroke-width="5.8" fill="none" stroke-linejoin="round"/>
</g>
<rect x="111.0" y="895.7" width="424.2" height="489.1" fill="none" stroke="#000" stroke-width="3.0"/><path d="M217.1 1384.8v-14.5M217.1 895.7v14.5M323.1 1384.8v-14.5M323.1 895.7v14.5M429.2 1384.8v-14.5M429.2 895.7v14.5M111.0 993.5h10.5M535.2 993.5h-10.5M111.0 1091.3h10.5M535.2 1091.3h-10.5M111.0 1189.2h10.5M535.2 1189.2h-10.5M111.0 1287.0h10.5M535.2 1287.0h-10.5" stroke="#000" stroke-width="2.6" fill="none"/>
<g clip-path="url(#cqe)">
<path d="M761.3 894.8V1383.5" stroke="#000" stroke-width="2.6" stroke-dasharray="4 2.6"/>
<path d="M550.7 1298.6C552.2 1299.8 556.5 1303.4 560.0 1305.5C563.5 1307.6 566.1 1309.0 571.4 1311.0C576.7 1313.0 585.1 1315.0 592.0 1317.2C598.9 1319.4 605.9 1322.6 612.8 1324.2C619.7 1325.8 628.0 1326.5 633.5 1326.7C639.0 1326.9 641.9 1325.2 646.0 1325.5C650.1 1325.8 653.6 1328.2 658.4 1328.8C663.2 1329.3 668.8 1329.1 675.0 1328.8C681.2 1328.5 689.4 1327.8 695.6 1326.7C701.8 1325.6 707.4 1324.5 712.2 1322.2C717.0 1319.9 720.8 1317.3 724.6 1313.0C728.4 1308.7 732.2 1300.8 735.0 1296.5C737.8 1292.2 739.5 1289.3 741.2 1287.4C742.9 1285.5 743.9 1284.7 745.3 1285.3C746.7 1285.9 748.3 1287.2 749.5 1291.0C750.7 1294.8 751.7 1302.2 752.6 1308.0C753.5 1313.8 754.2 1320.8 754.8 1326.0C755.4 1331.2 756.1 1336.8 756.4 1339.0" stroke="#fb0a0a" stroke-width="5.8" fill="none" stroke-linejoin="round"/>
<path d="M756.4 1339.0L757.4 1320.0L758.4 1276.0L759.6 880.0" stroke="#fb0a0a" stroke-width="5.2" fill="none" stroke-linejoin="round"/>
<path d="M762.4 880.0L763.9 1276.0L765.5 1300.0L766.6 1313.0L768.8 1343.0L770.6 1356.0L771.8 1359.5" stroke="#fb0a0a" stroke-width="4.6" fill="none" stroke-linejoin="round"/>
<path d="M756.3 1272L757.6 880H764.4L765.8 1272L761.3 1277Z" fill="#fb0a0a"/>
<path d="M771.8 1359.5C772.0 1359.2 772.6 1358.5 773.3 1357.5C774.0 1356.5 774.8 1354.8 776.0 1353.8C777.2 1352.8 778.2 1351.6 780.7 1351.7C783.2 1351.8 787.1 1353.2 790.9 1354.5C794.7 1355.8 798.5 1357.9 803.3 1359.4C808.1 1360.9 814.4 1363.0 819.9 1363.6C825.4 1364.2 830.9 1364.0 836.4 1362.8C841.9 1361.6 847.5 1360.0 853.0 1356.5C858.5 1353.0 864.0 1347.9 869.5 1342.0C875.0 1336.1 880.5 1328.2 886.0 1321.3C891.5 1314.4 897.2 1306.2 902.7 1300.6C908.2 1294.9 914.4 1290.2 919.2 1287.4C924.0 1284.6 927.6 1284.0 931.7 1284.0C935.8 1284.0 939.2 1285.5 944.0 1287.4C948.8 1289.4 955.6 1293.2 960.6 1295.7C965.6 1298.2 971.7 1301.5 973.9 1302.7" stroke="#fb0a0a" stroke-width="5.8" fill="none" stroke-linejoin="round"/>
<path d="M550.7 1298.6C555.5 1300.2 569.4 1304.2 579.7 1308.0C590.1 1311.8 601.8 1316.7 612.8 1321.3C623.8 1325.9 635.6 1330.6 646.0 1335.8C656.4 1341.0 665.3 1346.9 675.0 1352.4C684.7 1357.9 695.7 1364.7 704.0 1369.0C712.3 1373.3 718.4 1376.4 724.6 1378.5C730.8 1380.6 737.1 1381.3 741.2 1381.4C745.4 1381.5 747.6 1380.9 749.5 1379.3C751.4 1377.7 751.8 1376.9 752.5 1372.0C753.2 1367.1 753.4 1358.3 753.8 1350.0C754.1 1341.7 754.2 1329.5 754.6 1322.0C755.0 1314.5 755.0 1308.9 756.0 1305.0C757.0 1301.1 758.9 1299.0 760.5 1298.5C762.1 1298.0 764.4 1298.4 765.5 1302.0C766.6 1305.6 766.5 1312.0 767.0 1320.0C767.5 1328.0 767.8 1341.3 768.2 1350.0C768.6 1358.7 768.8 1366.9 769.5 1372.0C770.2 1377.1 770.8 1378.8 772.5 1380.5C774.2 1382.2 776.2 1382.1 780.0 1382.4C783.8 1382.8 784.9 1382.6 795.0 1382.6C805.1 1382.6 829.5 1383.1 840.5 1382.6C851.5 1382.0 855.1 1381.2 861.3 1379.3C867.5 1377.4 872.3 1375.8 877.8 1371.0C883.3 1366.2 889.6 1358.6 894.4 1350.3C899.2 1342.0 902.7 1333.0 906.8 1321.3C910.9 1309.6 915.8 1294.5 919.2 1280.0C922.7 1265.5 924.7 1248.9 927.5 1234.4C930.3 1219.9 932.3 1206.1 935.8 1193.0C939.2 1179.9 944.1 1165.0 948.2 1155.7C952.3 1146.4 957.8 1140.5 960.6 1137.0C963.4 1133.5 964.1 1135.3 964.8 1135.0" stroke="#16ee16" stroke-width="5.6" fill="none" stroke-linejoin="round" stroke-dasharray="9.5 8"/>
</g>
<rect x="550.7" y="894.8" width="422.0" height="488.7" fill="none" stroke="#000" stroke-width="3.0"/><path d="M656.2 1383.5v-14.5M656.2 894.8v14.5M761.7 1383.5v-14.5M761.7 894.8v14.5M867.2 1383.5v-14.5M867.2 894.8v14.5M550.7 992.5h10.5M972.7 992.5h-10.5M550.7 1090.3h10.5M972.7 1090.3h-10.5M550.7 1188.0h10.5M972.7 1188.0h-10.5M550.7 1285.8h10.5M972.7 1285.8h-10.5" stroke="#000" stroke-width="2.6" fill="none"/>
<g clip-path="url(#cqf)">
<path d="M1196.9 893.6V1382.6" stroke="#000" stroke-width="2.6" stroke-dasharray="4 2.6"/>
<path d="M985.7 1289.0C990.0 1290.1 1003.7 1293.8 1011.4 1295.7C1019.1 1297.6 1025.1 1297.8 1032.0 1300.6C1038.9 1303.3 1045.9 1308.6 1052.8 1312.2C1059.7 1315.8 1066.6 1318.7 1073.5 1322.2C1080.4 1325.7 1087.3 1329.4 1094.2 1333.0C1101.1 1336.6 1108.1 1340.8 1115.0 1344.0C1121.9 1347.2 1128.7 1350.0 1135.6 1352.4C1142.5 1354.8 1150.1 1357.7 1156.3 1358.6C1162.5 1359.5 1168.5 1358.5 1173.0 1357.8C1177.5 1357.1 1180.9 1353.7 1183.3 1354.5C1185.7 1355.3 1185.7 1358.7 1187.4 1362.8C1189.1 1366.9 1191.9 1376.4 1193.6 1379.3C1195.3 1382.2 1196.0 1383.5 1197.7 1380.0C1199.4 1376.5 1202.1 1364.1 1204.0 1358.6C1205.9 1353.1 1207.6 1347.7 1209.3 1347.0C1211.0 1346.3 1212.1 1351.2 1214.3 1354.5C1216.5 1357.8 1219.1 1363.9 1222.6 1367.0C1226.0 1370.1 1230.2 1372.0 1235.0 1373.0C1239.8 1374.0 1245.4 1374.0 1251.6 1373.0C1257.8 1372.0 1265.4 1370.1 1272.3 1367.0C1279.2 1363.9 1286.8 1360.0 1293.0 1354.5C1299.2 1349.0 1304.0 1342.8 1309.5 1333.8C1315.0 1324.8 1320.5 1313.0 1326.0 1300.6C1331.5 1288.2 1337.9 1272.3 1342.7 1259.2C1347.5 1246.1 1350.9 1233.0 1355.0 1222.0C1359.1 1211.0 1363.3 1200.0 1367.5 1193.0C1371.7 1186.0 1375.8 1182.3 1380.0 1179.7C1384.2 1177.1 1388.3 1176.7 1392.4 1177.2C1396.5 1177.7 1402.7 1181.7 1404.8 1182.6" stroke="#16ee16" stroke-width="5.6" fill="none" stroke-linejoin="round" stroke-dasharray="9.5 8"/>
<path d="M985.7 1275.0C987.2 1277.2 991.2 1283.9 994.8 1288.2C998.4 1292.5 1003.1 1297.5 1007.3 1300.6C1011.4 1303.7 1015.6 1305.0 1019.7 1306.9C1023.8 1308.8 1027.9 1310.1 1032.0 1312.2C1036.1 1314.3 1039.7 1317.1 1044.5 1319.3C1049.3 1321.5 1055.5 1323.9 1061.0 1325.5C1066.5 1327.1 1072.2 1327.9 1077.7 1328.8C1083.2 1329.7 1088.7 1330.4 1094.2 1330.9C1099.7 1331.4 1105.3 1331.9 1110.8 1332.0C1116.3 1332.1 1123.2 1332.2 1127.3 1331.7C1131.4 1331.2 1132.1 1330.2 1135.6 1328.8C1139.0 1327.4 1144.5 1326.0 1148.0 1323.4C1151.5 1320.8 1153.9 1318.2 1156.3 1313.0C1158.7 1307.8 1160.6 1301.4 1162.5 1292.4C1164.4 1283.4 1166.3 1273.0 1167.9 1259.2C1169.5 1245.4 1170.8 1229.5 1172.0 1209.5C1173.2 1189.5 1174.2 1168.0 1175.0 1139.0C1175.8 1110.0 1176.5 1065.4 1177.0 1035.6C1177.5 1005.8 1177.8 985.9 1178.2 960.0C1178.6 934.1 1179.0 893.3 1179.2 880.0" stroke="#fb0a0a" stroke-width="5.8" fill="none" stroke-linejoin="round"/>
<path d="M1193.4 880.0C1193.6 890.0 1194.0 921.0 1194.4 940.0C1194.8 959.0 1195.3 974.8 1195.7 994.2C1196.1 1013.6 1196.4 1052.8 1196.9 1056.3C1197.4 1059.8 1198.0 1015.0 1198.6 1015.0C1199.1 1015.0 1199.7 1032.1 1200.2 1056.3C1200.8 1080.5 1201.2 1128.9 1201.9 1160.0C1202.6 1191.1 1203.7 1224.8 1204.4 1242.7C1205.1 1260.6 1205.4 1264.8 1206.0 1267.5C1206.6 1270.2 1207.3 1254.4 1208.0 1259.2C1208.7 1264.0 1209.2 1289.9 1210.2 1296.5C1211.2 1303.1 1213.1 1299.3 1214.3 1298.6C1215.5 1297.9 1216.6 1292.1 1217.6 1292.4C1218.6 1292.7 1219.3 1297.5 1220.5 1300.6C1221.7 1303.7 1223.3 1308.4 1224.7 1311.0C1226.1 1313.6 1227.1 1315.7 1228.8 1316.4C1230.5 1317.1 1232.6 1314.5 1235.0 1315.0C1237.4 1315.5 1240.5 1318.8 1243.3 1319.3C1246.1 1319.8 1248.1 1318.3 1251.6 1318.0C1255.0 1317.7 1257.1 1317.0 1264.0 1317.2C1270.9 1317.4 1283.3 1318.1 1293.0 1319.3C1302.7 1320.5 1310.3 1322.5 1322.0 1324.2C1333.7 1325.9 1348.9 1327.7 1363.4 1329.6C1377.9 1331.5 1401.3 1334.8 1408.9 1335.8" stroke="#fb0a0a" stroke-width="5.3" fill="none" stroke-linejoin="round"/>
</g>
<rect x="985.7" y="893.6" width="423.2" height="489.0" fill="none" stroke="#000" stroke-width="3.0"/><path d="M1091.5 1382.6v-14.5M1091.5 893.6v14.5M1197.3 1382.6v-14.5M1197.3 893.6v14.5M1303.1 1382.6v-14.5M1303.1 893.6v14.5M985.7 991.4h10.5M1408.9 991.4h-10.5M985.7 1089.2h10.5M1408.9 1089.2h-10.5M985.7 1187.0h10.5M1408.9 1187.0h-10.5M985.7 1284.8h10.5M1408.9 1284.8h-10.5" stroke="#000" stroke-width="2.6" fill="none"/>
<rect x="159.2" y="1011.6" width="161.0" height="192.6" fill="#fff" stroke="#000" stroke-width="2.7"/>
<defs><clipPath id="cqi"><rect x="159.2" y="1011.6" width="161.0" height="192.6"/></clipPath></defs>
<g clip-path="url(#cqi)">
<path d="M240 1011.6V1204.2" stroke="#000" stroke-width="2.3" stroke-dasharray="3.6 2.6"/>
<path d="M158.8 1161.6L172.0 1165.5L188.0 1172.3L198.0 1178.5L207.6 1185.0L215.0 1190.5L221.3 1194.8L224.2 1196.0L226.3 1190.0L228.0 1120.0L229.6 1055.0L231.3 1110.0L233.2 1150.0L235.5 1170.0L238.0 1182.0L239.8 1185.0L241.6 1178.0L243.3 1150.0L244.8 1133.0L246.6 1145.0L248.5 1163.0L250.6 1175.2L254.0 1184.0L258.4 1189.0L265.0 1193.0L272.0 1195.7L285.7 1198.7L300.0 1199.8L320.0 1200.6" stroke="#fb0a0a" stroke-width="4.8" fill="none" stroke-linejoin="round"/>
<path d="M159.5 1201.6H320" stroke="#16ee16" stroke-width="5.4" stroke-dasharray="10 9.8"/>
</g>
<path d="M199.2 1204.2v-5M199.2 1011.6v5M239.4 1204.2v-5M239.4 1011.6v5M280.2 1204.2v-5M280.2 1011.6v5M159.2 1107.8h12M320.2 1107.8h-12" stroke="#000" stroke-width="2.3" fill="none"/>
<text x="235.0" y="1000.5" font-family="'Liberation Sans', Arial, Helvetica, sans-serif" font-size="24.6" text-anchor="middle" font-weight="normal" font-style="normal" fill="#000" stroke="#000" stroke-width="0.4">DOS</text>
<text x="156.0" y="1029.5" font-family="'Liberation Sans', Arial, Helvetica, sans-serif" font-size="28.5" text-anchor="end" font-weight="normal" font-style="normal" fill="#000" stroke="#000" stroke-width="0.4">0.4</text>
<text x="156.0" y="1118.5" font-family="'Liberation Sans', Arial, Helvetica, sans-serif" font-size="28.5" text-anchor="end" font-weight="normal" font-style="normal" fill="#000" stroke="#000" stroke-width="0.4">0.2</text>
<text x="148.3" y="1209.5" font-family="'Liberation Sans', Arial, Helvetica, sans-serif" font-size="28.5" text-anchor="end" font-weight="normal" font-style="normal" fill="#000" stroke="#000" stroke-width="0.4">0</text>
<text x="161.0" y="1230.0" font-family="'Liberation Sans', Arial, Helvetica, sans-serif" font-size="28.5" text-anchor="middle" font-weight="normal" font-style="normal" fill="#000" stroke="#000" stroke-width="0.4">-0.1</text>
<text x="238.0" y="1230.0" font-family="'Liberation Sans', Arial, Helvetica, sans-serif" font-size="28.5" text-anchor="middle" font-weight="normal" font-style="normal" fill="#000" stroke="#000" stroke-width="0.4">0</text>
<text x="303.5" y="1230.0" font-family="'Liberation Sans', Arial, Helvetica, sans-serif" font-size="28.5" text-anchor="middle" font-weight="normal" font-style="normal" fill="#000" stroke="#000" stroke-width="0.4">0.1</text>
<text x="238.5" y="1256.0" font-family="'Liberation Sans', Arial, Helvetica, sans-serif" font-size="25.1" text-anchor="middle" font-weight="normal" font-style="normal" fill="#000" stroke="#000" stroke-width="0.4">Energy (eV)</text>
<rect x="606.6" y="1004.6" width="145.8" height="185.4" fill="#fff" stroke="#000" stroke-width="2.8"/>
<path d="M642.6 1190.0v-8.5M642.6 1004.6v8.5M679.9 1190.0v-8.5M679.9 1004.6v8.5M716.3 1190.0v-8.5M716.3 1004.6v8.5M606.6 1066.7h8.5M752.4 1066.7h-8.5M606.6 1128.8h8.5M752.4 1128.8h-8.5" stroke="#000" stroke-width="2.3" fill="none"/>
<path d="M654.2 1191L751.5 1022" stroke="#000" stroke-width="4.6" stroke-dasharray="2.1 1.9"/>
<circle cx="607.4" cy="1191.0" r="5.6" fill="#fb0a0a"/>
<circle cx="661.3" cy="1178.5" r="5.6" fill="#fb0a0a"/>
<circle cx="689.4" cy="1128.8" r="5.6" fill="#fb0a0a"/>
<circle cx="705.2" cy="1106.9" r="5.6" fill="#fb0a0a"/>
<circle cx="721.3" cy="1064.6" r="5.6" fill="#fb0a0a"/>
<circle cx="751.5" cy="1022.0" r="5.6" fill="#fb0a0a"/>
<text x="605.0" y="1015.8" font-family="'Liberation Sans', Arial, Helvetica, sans-serif" font-size="24.5" text-anchor="end" font-weight="normal" font-style="normal" fill="#000" stroke="#000" stroke-width="0.4">60</text>
<text x="605.0" y="1075.0" font-family="'Liberation Sans', Arial, Helvetica, sans-serif" font-size="24.5" text-anchor="end" font-weight="normal" font-style="normal" fill="#000" stroke="#000" stroke-width="0.4">40</text>
<text x="605.0" y="1137.0" font-family="'Liberation Sans', Arial, Helvetica, sans-serif" font-size="24.5" text-anchor="end" font-weight="normal" font-style="normal" fill="#000" stroke="#000" stroke-width="0.4">20</text>
<text x="603.0" y="1193.0" font-family="'Liberation Sans', Arial, Helvetica, sans-serif" font-size="24.5" text-anchor="end" font-weight="normal" font-style="normal" fill="#000" stroke="#000" stroke-width="0.4">0</text>
<text x="601.5" y="1217.0" font-family="'Liberation Sans', Arial, Helvetica, sans-serif" font-size="24.5" text-anchor="middle" font-weight="normal" font-style="normal" fill="#000" stroke="#000" stroke-width="0.4">60</text>
<text x="680.0" y="1217.0" font-family="'Liberation Sans', Arial, Helvetica, sans-serif" font-size="24.5" text-anchor="middle" font-weight="normal" font-style="normal" fill="#000" stroke="#000" stroke-width="0.4">80</text>
<text x="748.5" y="1216.0" font-family="'Liberation Sans', Arial, Helvetica, sans-serif" font-size="24.5" text-anchor="middle" font-weight="normal" font-style="normal" fill="#000" stroke="#000" stroke-width="0.4">100</text>
<text x="680.5" y="1247.6" font-family="'Liberation Sans', Arial, Helvetica, sans-serif" font-size="24.5" text-anchor="middle" stroke="#000" stroke-width="0.4"><tspan font-style="italic">P</tspan> (GPa)</text>
<text x="575.0" y="1096.5" font-family="'Liberation Sans', Arial, Helvetica, sans-serif" font-size="24.5" text-anchor="middle" font-weight="normal" font-style="normal" fill="#000" transform="rotate(-90 575.0 1096.5)" stroke="#000" stroke-width="0.4">FWHM (meV)</text>
<text x="620.0" y="1046.0" font-family="'Liberation Sans', Arial, Helvetica, sans-serif" font-size="24.5" text-anchor="start" font-weight="normal" font-style="normal" fill="#000" stroke="#000" stroke-width="0.4">T = 10 K</text>
<text x="31.0" y="1140.2" font-family="'Liberation Sans', Arial, Helvetica, sans-serif" font-size="40.0" text-anchor="middle" font-weight="normal" font-style="normal" fill="#000" transform="rotate(-90 31.0 1140.2)" stroke="#000" stroke-width="0.65">DOS (states per eV f.u.)</text>
<text x="105.8" y="910.6" font-family="'Liberation Sans', Arial, Helvetica, sans-serif" font-size="40.0" text-anchor="end" font-weight="normal" font-style="normal" fill="#000" stroke="#000" stroke-width="0.65">1.0</text>
<text x="105.8" y="1006.7" font-family="'Liberation Sans', Arial, Helvetica, sans-serif" font-size="40.0" text-anchor="end" font-weight="normal" font-style="normal" fill="#000" stroke="#000" stroke-width="0.65">0.8</text>
<text x="105.8" y="1105.0" font-family="'Liberation Sans', Arial, Helvetica, sans-serif" font-size="40.0" text-anchor="end" font-weight="normal" font-style="normal" fill="#000" stroke="#000" stroke-width="0.65">0.6</text>
<text x="105.8" y="1202.6" font-family="'Liberation Sans', Arial, Helvetica, sans-serif" font-size="40.0" text-anchor="end" font-weight="normal" font-style="normal" fill="#000" stroke="#000" stroke-width="0.65">0.4</text>
<text x="105.8" y="1300.7" font-family="'Liberation Sans', Arial, Helvetica, sans-serif" font-size="40.0" text-anchor="end" font-weight="normal" font-style="normal" fill="#000" stroke="#000" stroke-width="0.65">0.2</text>
<text x="97.0" y="1396.8" font-family="'Liberation Sans', Arial, Helvetica, sans-serif" font-size="40.0" text-anchor="end" font-weight="normal" font-style="normal" fill="#000" stroke="#000" stroke-width="0.65">0</text>
<text x="109.5" y="1430.3" font-family="'Liberation Sans', Arial, Helvetica, sans-serif" font-size="40.4" text-anchor="middle" font-weight="normal" font-style="normal" fill="#000" stroke="#000" stroke-width="0.65">-1</text>
<text x="202.5" y="1430.3" font-family="'Liberation Sans', Arial, Helvetica, sans-serif" font-size="40.4" text-anchor="middle" font-weight="normal" font-style="normal" fill="#000" stroke="#000" stroke-width="0.65">-0.5</text>
<text x="322.0" y="1430.3" font-family="'Liberation Sans', Arial, Helvetica, sans-serif" font-size="40.4" text-anchor="middle" font-weight="normal" font-style="normal" fill="#000" stroke="#000" stroke-width="0.65">0</text>
<text x="423.0" y="1430.3" font-family="'Liberation Sans', Arial, Helvetica, sans-serif" font-size="40.4" text-anchor="middle" font-weight="normal" font-style="normal" fill="#000" stroke="#000" stroke-width="0.65">0.5</text>
<text x="509.5" y="1430.3" font-family="'Liberation Sans', Arial, Helvetica, sans-serif" font-size="40.4" text-anchor="start" font-weight="normal" font-style="normal" fill="#000" stroke="#000" stroke-width="0.65">1</text>
<text x="546.0" y="1429.3" font-family="'Liberation Sans', Arial, Helvetica, sans-serif" font-size="40.4" text-anchor="middle" font-weight="normal" font-style="normal" fill="#000" stroke="#000" stroke-width="0.65">-1</text>
<text x="642.0" y="1429.3" font-family="'Liberation Sans', Arial, Helvetica, sans-serif" font-size="40.4" text-anchor="middle" font-weight="normal" font-style="normal" fill="#000" stroke="#000" stroke-width="0.65">-0.5</text>
<text x="757.0" y="1429.3" font-family="'Liberation Sans', Arial, Helvetica, sans-serif" font-size="40.4" text-anchor="middle" font-weight="normal" font-style="normal" fill="#000" stroke="#000" stroke-width="0.65">0</text>
<text x="862.0" y="1427.3" font-family="'Liberation Sans', Arial, Helvetica, sans-serif" font-size="40.4" text-anchor="middle" font-weight="normal" font-style="normal" fill="#000" stroke="#000" stroke-width="0.65">0.5</text>
<text x="956.5" y="1429.3" font-family="'Liberation Sans', Arial, Helvetica, sans-serif" font-size="40.4" text-anchor="start" font-weight="normal" font-style="normal" fill="#000" stroke="#000" stroke-width="0.65">1</text>
<text x="988.0" y="1429.3" font-family="'Liberation Sans', Arial, Helvetica, sans-serif" font-size="40.4" text-anchor="middle" font-weight="normal" font-style="normal" fill="#000" stroke="#000" stroke-width="0.65">-1</text>
<text x="1085.0" y="1429.3" font-family="'Liberation Sans', Arial, Helvetica, sans-serif" font-size="40.4" text-anchor="middle" font-weight="normal" font-style="normal" fill="#000" stroke="#000" stroke-width="0.65">-0.5</text>
<text x="1198.0" y="1429.3" font-family="'Liberation Sans', Arial, Helvetica, sans-serif" font-size="40.4" text-anchor="middle" font-weight="normal" font-style="normal" fill="#000" stroke="#000" stroke-width="0.65">0</text>
<text x="1302.0" y="1429.3" font-family="'Liberation Sans', Arial, Helvetica, sans-serif" font-size="40.4" text-anchor="middle" font-weight="normal" font-style="normal" fill="#000" stroke="#000" stroke-width="0.65">0.5</text>
<text x="1396.5" y="1429.3" font-family="'Liberation Sans', Arial, Helvetica, sans-serif" font-size="40.4" text-anchor="start" font-weight="normal" font-style="normal" fill="#000" stroke="#000" stroke-width="0.65">1</text>
<text x="334.0" y="1476.0" font-family="'Liberation Sans', Arial, Helvetica, sans-serif" font-size="40.0" text-anchor="middle" font-weight="normal" font-style="normal" fill="#000" stroke="#000" stroke-width="0.65">Energy (eV)</text>
<text x="766.5" y="1476.0" font-family="'Liberation Sans', Arial, Helvetica, sans-serif" font-size="40.0" text-anchor="middle" font-weight="normal" font-style="normal" fill="#000" stroke="#000" stroke-width="0.65">Energy (eV)</text>
<text x="1215.0" y="1476.0" font-family="'Liberation Sans', Arial, Helvetica, sans-serif" font-size="40.0" text-anchor="middle" font-weight="normal" font-style="normal" fill="#000" stroke="#000" stroke-width="0.65">Energy (eV)</text>
<text x="128.8" y="945.8" font-family="'Liberation Sans', Arial, Helvetica, sans-serif" font-size="40.8" text-anchor="start" font-weight="bold" font-style="normal" fill="#000" stroke="#000" stroke-width="0.4">d</text>
<text x="367.5" y="961.3" font-family="'Liberation Sans', Arial, Helvetica, sans-serif" font-size="39.9" text-anchor="start" font-weight="normal" font-style="normal" fill="#000" stroke="#000" stroke-width="0.65">60 GPa</text>
<text x="562.3" y="943.7" font-family="'Liberation Sans', Arial, Helvetica, sans-serif" font-size="40.8" text-anchor="start" font-weight="bold" font-style="normal" fill="#000" stroke="#000" stroke-width="0.4">e</text>
<text x="804.0" y="961.8" font-family="'Liberation Sans', Arial, Helvetica, sans-serif" font-size="39.9" text-anchor="start" font-weight="normal" font-style="normal" fill="#000" stroke="#000" stroke-width="0.65">75 GPa</text>
<text x="1001.3" y="943.7" font-family="'Liberation Sans', Arial, Helvetica, sans-serif" font-size="40.8" text-anchor="start" font-weight="bold" font-style="normal" fill="#000" stroke="#000" stroke-width="0.4">f</text>
<text x="1232.5" y="960.0" font-family="'Liberation Sans', Arial, Helvetica, sans-serif" font-size="39.9" text-anchor="start" font-weight="normal" font-style="normal" fill="#000" stroke="#000" stroke-width="0.65">100 GPa</text>
<path d="M351.0 1023.2H430.7" stroke="#fb0a0a" stroke-width="5.4"/><path d="M350.5 1075.8H430.7" stroke="#16ee16" stroke-width="5.9" stroke-dasharray="10.8 10.8"/><text x="443.5" y="1037.9" font-family="'Liberation Sans', Arial, Helvetica, sans-serif" font-size="39.0" text-anchor="start" font-weight="normal" font-style="normal" fill="#000" stroke="#000" stroke-width="0.65">Yb1</text><text x="443.5" y="1089.7" font-family="'Liberation Sans', Arial, Helvetica, sans-serif" font-size="39.0" text-anchor="start" font-weight="normal" font-style="normal" fill="#000" stroke="#000" stroke-width="0.65">Yb2</text>
<path d="M782.6 1024.0H863.3" stroke="#fb0a0a" stroke-width="5.4"/><path d="M782.1 1076.6H863.3" stroke="#16ee16" stroke-width="5.9" stroke-dasharray="10.8 10.8"/><text x="876.5" y="1038.7" font-family="'Liberation Sans', Arial, Helvetica, sans-serif" font-size="39.0" text-anchor="start" font-weight="normal" font-style="normal" fill="#000" stroke="#000" stroke-width="0.65">Yb1</text><text x="876.5" y="1090.5" font-family="'Liberation Sans', Arial, Helvetica, sans-serif" font-size="39.0" text-anchor="start" font-weight="normal" font-style="normal" fill="#000" stroke="#000" stroke-width="0.65">Yb2</text>
<path d="M1230.0 1024.0H1310.4" stroke="#fb0a0a" stroke-width="5.4"/><path d="M1229.5 1076.6H1310.4" stroke="#16ee16" stroke-width="5.9" stroke-dasharray="10.8 10.8"/><text x="1323.5" y="1038.7" font-family="'Liberation Sans', Arial, Helvetica, sans-serif" font-size="39.0" text-anchor="start" font-weight="normal" font-style="normal" fill="#000" stroke="#000" stroke-width="0.65">Yb1</text><text x="1323.5" y="1090.5" font-family="'Liberation Sans', Arial, Helvetica, sans-serif" font-size="39.0" text-anchor="start" font-weight="normal" font-style="normal" fill="#000" stroke="#000" stroke-width="0.65">Yb2</text>
</g>
</svg>
</body></html>
